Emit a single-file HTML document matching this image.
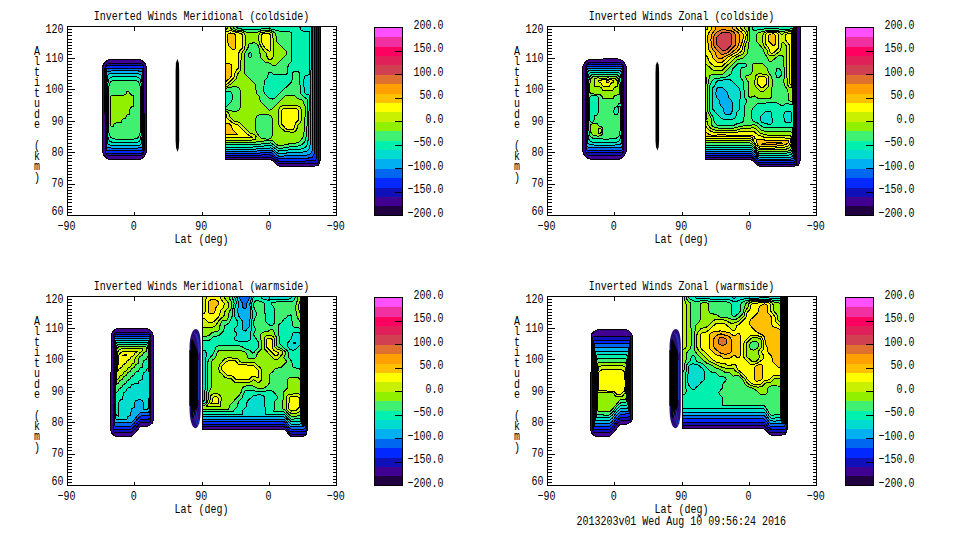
<!DOCTYPE html>
<html><head><meta charset="utf-8"><style>
html,body{margin:0;padding:0;background:#fff;width:960px;height:540px;overflow:hidden}
svg{display:block}
text{font-family:"Liberation Mono",monospace;font-size:13px;fill:#000}
</style></head><body>
<svg width="960" height="540" viewBox="0 0 960 540">
<rect width="960" height="540" fill="#fff"/>
<g transform="translate(0,0)">
<path d="M109.6,59.4 106.9,60.6 104.6,62.6 103.1,65.1 102.4,67.9 102.6,152.4 103.9,155.4 105.9,157.6 108.9,159.4 110.9,159.9 139.4,159.6 142.1,158.4 144.4,156.4 145.9,153.9 146.6,151.1 146.4,66.6 145.1,63.6 143.1,61.4 140.1,59.6 138.1,59.1Z" fill="#200040" fill-rule="evenodd" shape-rendering="crispEdges"/><path d="M109.6,59.4 106.9,60.6 104.6,62.6 103.1,65.1 102.4,67.9 102.6,152.4 103.9,155.4 105.9,157.6 108.9,159.4 110.9,159.9 139.4,159.6 142.1,158.4 144.4,156.4 145.9,153.9 146.6,151.1 146.4,66.6 145.1,63.6 143.1,61.4 140.1,59.6 138.1,59.1Z" fill="#400090" fill-rule="evenodd" shape-rendering="crispEdges"/><path d="M108.4,63.1 106.4,64.6 104.9,68.1 105.1,152.1 106.4,154.4 108.4,155.9 140.6,155.9 142.6,154.4 144.1,150.9 143.9,66.9 142.6,64.6 140.6,63.1Z" fill="#1010b8" fill-rule="evenodd" shape-rendering="crispEdges"/><path d="M106.4,65.9 105.4,68.1 105.6,151.9 106.1,152.9 107.1,153.4 142.6,153.1 143.6,150.9 143.4,67.1 142.9,66.1 141.9,65.6Z" fill="#0028ff" fill-rule="evenodd" shape-rendering="crispEdges"/><path d="M107.1,68.4 106.1,69.6 105.9,146.4 106.4,150.1 107.1,150.6 141.9,150.6 142.9,149.4 143.1,72.6 142.6,68.9 141.9,68.4Z" fill="#0068f0" fill-rule="evenodd" shape-rendering="crispEdges"/><path d="M107.4,71.4 106.6,73.1 106.4,140.9 106.9,146.9 107.4,147.6 111.4,148.1 137.6,148.1 141.6,147.6 142.4,145.9 142.6,78.4 142.1,72.1 141.6,71.4 137.6,70.9 111.4,70.9Z" fill="#00b0f0" fill-rule="evenodd" shape-rendering="crispEdges"/><path d="M108.9,74.1 107.4,75.6 106.9,83.9 106.9,135.4 107.4,143.4 108.4,144.6 111.4,145.4 137.6,145.4 140.1,144.9 141.6,143.4 142.1,135.4 142.1,83.9 141.6,75.6 140.6,74.4 137.6,73.6 111.4,73.6Z" fill="#00dcd0" fill-rule="evenodd" shape-rendering="crispEdges"/><path d="M110.9,77.1 108.9,79.4 107.6,84.6 107.4,125.9 107.6,134.4 108.6,139.6 110.1,141.6 113.4,142.6 131.6,142.9 137.9,142.1 138.9,141.6 140.4,139.6 141.4,134.4 141.6,93.1 141.4,84.6 140.1,79.4 138.6,77.4 135.1,76.4 118.4,76.1Z" fill="#00f0b0" fill-rule="evenodd" shape-rendering="crispEdges"/><path d="M111.4,81.1 109.4,83.6 108.6,88.9 108.4,119.1 108.6,130.1 109.4,135.4 110.9,137.6 114.9,139.1 131.9,139.4 136.4,138.6 138.1,137.6 139.6,135.4 140.4,130.1 140.6,99.9 140.4,88.9 139.6,83.6 137.6,81.1 134.4,80.4 119.4,80.1Z" fill="#40f070" fill-rule="evenodd" shape-rendering="crispEdges"/><path d="M128.6,91.4 126.9,91.6 125.9,93.9 123.9,95.1 112.1,95.1 110.4,96.4 110.1,124.9 111.4,126.6 113.1,126.4 114.1,124.1 115.4,123.1 121.1,122.4 122.1,120.1 123.1,119.1 124.9,118.6 127.1,115.1 129.4,114.1 130.1,108.4 131.1,107.1 132.9,106.6 133.6,105.6 133.6,96.4 132.9,95.4 131.1,94.9Z" fill="#90f000" fill-rule="evenodd" shape-rendering="crispEdges"/><path d="M109.6,59.4 106.9,60.6 104.6,62.6 103.1,65.1 102.4,67.9 102.6,152.4 103.9,155.4 105.9,157.6 108.9,159.4 110.9,159.9 139.4,159.6 142.1,158.4 144.4,156.4 145.9,153.9 146.6,151.1 146.4,66.6 145.1,63.6 143.1,61.4 140.1,59.6 138.1,59.1ZM108.4,63.1 106.4,64.6 104.9,68.1 105.1,152.1 106.4,154.4 108.4,155.9 140.6,155.9 142.6,154.4 144.1,150.9 143.9,66.9 142.6,64.6 140.6,63.1ZM106.4,65.9 105.4,68.1 105.6,151.9 106.1,152.9 107.1,153.4 142.6,153.1 143.6,150.9 143.4,67.1 142.9,66.1 141.9,65.6ZM107.1,68.4 106.1,69.6 105.9,146.4 106.4,150.1 107.1,150.6 141.9,150.6 142.9,149.4 143.1,72.6 142.6,68.9 141.9,68.4ZM107.4,71.4 106.6,73.1 106.4,140.9 106.9,146.9 107.4,147.6 111.4,148.1 137.6,148.1 141.6,147.6 142.4,145.9 142.6,78.4 142.1,72.1 141.6,71.4 137.6,70.9 111.4,70.9ZM108.9,74.1 107.4,75.6 106.9,83.9 106.9,135.4 107.4,143.4 108.4,144.6 111.4,145.4 137.6,145.4 140.1,144.9 141.6,143.4 142.1,135.4 142.1,83.9 141.6,75.6 140.6,74.4 137.6,73.6 111.4,73.6ZM110.9,77.1 108.9,79.4 107.6,84.6 107.4,125.9 107.6,134.4 108.6,139.6 110.1,141.6 113.4,142.6 131.6,142.9 137.9,142.1 138.9,141.6 140.4,139.6 141.4,134.4 141.6,93.1 141.4,84.6 140.1,79.4 138.6,77.4 135.1,76.4 118.4,76.1ZM111.4,81.1 109.4,83.6 108.6,88.9 108.4,119.1 108.6,130.1 109.4,135.4 110.9,137.6 114.9,139.1 131.9,139.4 136.4,138.6 138.1,137.6 139.6,135.4 140.4,130.1 140.6,99.9 140.4,88.9 139.6,83.6 137.6,81.1 134.4,80.4 119.4,80.1ZM128.6,91.4 126.9,91.6 125.9,93.9 123.9,95.1 112.1,95.1 110.4,96.4 110.1,124.9 111.4,126.6 113.1,126.4 114.1,124.1 115.4,123.1 121.1,122.4 122.1,120.1 123.1,119.1 124.9,118.6 127.1,115.1 129.4,114.1 130.1,108.4 131.1,107.1 132.9,106.6 133.6,105.6 133.6,96.4 132.9,95.4 131.1,94.9Z" fill="none" stroke="#000" stroke-width="1.0" shape-rendering="crispEdges"/><path d="M177.4,59 L178.9,63 L179.2,72 L179.2,141 L178.8,148 L177.6,152 L176.1,148 L175.6,141 L175.6,72 L175.9,63Z" fill="#000"/><path d="M225.4,26.1 225.4,159.4 270.6,159.4 273.1,160.9 276.6,164.6 279.4,166.4 314.6,166.1 318.4,165.1 319.9,162.4 320.4,154.1 320.4,26.1Z" fill="#200040" fill-rule="evenodd" shape-rendering="crispEdges"/><path d="M225.4,26.1 225.4,159.4 270.6,159.4 273.1,160.9 276.6,164.6 279.4,166.4 314.6,166.1 318.4,165.1 319.9,162.4 320.4,154.1 320.4,26.1Z" fill="#400090" fill-rule="evenodd" shape-rendering="crispEdges"/><path d="M225.4,26.1 225.4,157.4 270.9,157.1 279.1,163.9 317.9,163.4 318.4,162.4 318.6,26.1Z" fill="#1010b8" fill-rule="evenodd" shape-rendering="crispEdges"/><path d="M225.4,26.1 225.4,155.4 271.1,154.9 279.1,161.4 312.6,160.9 315.4,160.1 316.4,158.1 316.6,26.1Z" fill="#0028ff" fill-rule="evenodd" shape-rendering="crispEdges"/><path d="M225.4,26.1 225.4,153.4 252.6,153.4 270.4,152.4 272.9,153.6 276.6,157.4 279.1,158.9 290.1,158.1 308.1,158.1 312.6,157.1 314.4,153.6 314.9,141.9 314.9,26.1Z" fill="#0068f0" fill-rule="evenodd" shape-rendering="crispEdges"/><path d="M225.4,26.1 225.4,151.4 251.4,151.4 270.9,150.1 273.4,151.6 276.9,155.1 279.1,156.4 292.1,155.4 303.4,155.4 307.6,154.9 310.1,153.9 311.1,152.9 312.1,150.4 312.9,141.6 312.9,26.1Z" fill="#00b0f0" fill-rule="evenodd" shape-rendering="crispEdges"/><path d="M225.4,26.1 225.4,149.4 250.4,149.4 271.1,147.9 272.6,148.6 276.9,152.6 279.1,153.9 289.9,152.6 301.9,152.4 307.4,150.9 309.6,147.9 310.9,138.1 311.1,26.1Z" fill="#00dcd0" fill-rule="evenodd" shape-rendering="crispEdges"/><path d="M225.4,26.1 225.4,147.1 251.9,147.1 271.1,145.4 278.6,151.1 289.4,149.9 299.6,149.4 304.1,148.1 306.6,145.9 307.6,143.6 308.9,134.1 309.1,95.1 306.1,94.4 304.1,91.9 303.9,79.6 304.4,76.9 305.4,75.6 309.1,74.6 309.4,31.4 303.4,31.1 301.4,30.4 300.1,28.6 299.9,26.1Z" fill="#00f0b0" fill-rule="evenodd" shape-rendering="crispEdges"/><path d="M225.4,26.1 225.4,91.1 230.1,91.4 231.4,92.4 232.1,94.4 232.1,99.6 231.6,101.4 226.6,106.4 225.4,106.6 225.4,144.9 252.4,144.9 271.1,142.9 277.6,147.9 279.9,148.6 289.6,146.9 296.9,146.4 302.1,144.6 304.9,141.4 306.4,135.4 307.1,124.1 307.4,99.1 303.9,97.1 300.1,93.1 299.9,74.9 299.1,72.4 297.6,71.4 295.9,71.1 294.4,71.4 292.6,72.6 292.1,74.1 292.1,80.1 291.4,82.1 274.6,98.4 272.1,99.1 269.6,98.6 265.1,94.4 263.9,91.6 264.1,81.4 264.9,79.9 267.4,77.4 268.4,73.1 269.4,72.1 270.9,72.1 273.6,74.4 275.4,74.9 284.1,74.9 286.6,74.1 287.6,72.9 288.1,65.4 288.9,63.9 291.4,61.4 291.9,59.6 291.9,34.4 291.1,32.4 288.6,31.1 279.4,31.1 270.6,28.9 261.4,28.9 255.6,29.9 248.4,29.9 238.4,28.6 236.6,27.4 236.1,26.1ZM249.9,52.4 250.6,52.4 251.9,54.1 251.6,56.6 250.4,57.9 249.6,57.9 248.4,56.4 248.4,54.1Z" fill="#40f070" fill-rule="evenodd" shape-rendering="crispEdges"/><path d="M225.4,26.1 225.4,88.4 232.1,86.9 236.6,86.9 238.6,87.6 240.1,90.4 240.1,107.6 239.4,109.6 236.6,111.1 231.9,111.1 227.1,109.6 225.4,109.6 225.4,142.6 251.4,142.6 270.9,140.1 272.6,140.9 277.6,145.1 280.6,145.6 289.1,143.9 294.4,143.4 298.9,141.9 301.1,140.1 303.1,136.6 304.6,128.6 305.4,106.4 304.1,104.6 302.9,100.6 300.9,99.4 297.6,98.6 295.1,96.1 293.6,95.4 286.4,95.4 284.6,96.4 271.4,109.6 269.4,110.1 260.4,101.4 259.4,96.6 256.9,94.1 256.1,92.6 255.9,86.4 254.9,83.9 244.9,74.1 244.1,72.6 244.1,54.4 247.9,48.1 248.6,44.6 250.4,43.1 255.1,42.9 256.6,43.4 258.4,45.9 259.9,50.1 260.1,55.6 261.1,58.1 265.1,62.1 270.1,63.4 273.6,65.9 275.4,65.4 286.4,54.4 286.9,53.4 286.4,51.6 276.6,41.6 276.1,40.1 276.1,35.9 275.4,33.4 272.1,31.1 267.4,30.4 261.6,30.6 256.6,32.4 247.4,32.4 242.4,30.6 236.1,29.9 233.6,28.1 233.1,26.1ZM257.4,115.6 259.4,114.9 268.9,114.9 271.4,116.4 272.1,118.4 272.1,135.6 270.6,138.4 268.6,139.1 262.4,138.9 259.9,136.9 256.9,133.1 255.9,130.6 255.9,118.4Z" fill="#90f000" fill-rule="evenodd" shape-rendering="crispEdges"/><path d="M225.4,111.4 225.4,140.1 251.6,140.1 255.6,139.4 256.1,136.6 254.9,134.9 249.9,132.9 239.6,122.6 233.9,120.9 229.9,116.9 228.6,113.1 226.9,111.6ZM280.6,106.6 279.6,107.6 278.9,109.6 278.9,124.6 279.6,126.6 285.4,131.9 293.6,132.1 295.1,131.6 296.6,130.1 297.9,125.1 300.1,122.9 301.1,120.4 301.1,109.6 300.4,107.6 299.1,106.4 297.6,105.9 282.6,105.9ZM261.4,32.1 259.6,33.4 258.9,34.9 258.9,40.4 260.1,44.9 263.6,50.6 266.1,53.1 267.4,57.9 269.1,59.4 270.9,59.4 272.4,58.4 273.1,56.4 273.1,39.1 272.6,33.9 271.9,32.9 269.6,31.9ZM230.1,26.1 228.4,26.1 227.9,27.6 226.4,29.1 225.4,29.4 225.4,86.6 227.1,86.4 231.4,83.6 236.4,78.6 237.4,74.1 240.4,70.4 240.9,68.9 241.1,54.1 244.6,48.9 245.1,45.6 245.1,34.9 244.4,33.4 242.6,32.1 236.6,31.4 232.6,29.9 230.6,27.9Z" fill="#c8f000" fill-rule="evenodd" shape-rendering="crispEdges"/><path d="M225.4,113.6 225.4,137.6 249.9,137.6 252.1,137.1 248.6,135.1 244.4,131.6 237.9,125.1 233.4,123.6 227.1,118.1 226.4,114.9ZM283.4,108.6 282.1,109.4 281.4,112.1 281.6,123.9 286.1,128.9 289.1,129.6 292.6,129.4 293.6,128.9 294.4,127.6 295.4,123.4 298.4,119.9 298.4,110.4 297.6,109.1 294.9,108.4ZM263.1,33.6 261.9,34.6 261.4,36.9 262.1,44.1 265.6,48.6 269.6,51.6 270.4,50.1 270.6,47.4 270.4,35.1 268.9,33.6ZM230.4,30.6 225.4,32.1 225.4,84.9 227.9,83.6 233.9,77.6 235.4,71.6 238.4,67.9 238.6,53.4 239.6,51.1 242.1,48.4 242.6,45.6 242.6,36.6 242.1,34.6 240.9,33.6Z" fill="#ffff00" fill-rule="evenodd" shape-rendering="crispEdges"/><path d="M225.4,123.1 225.4,134.4 237.4,134.4 232.9,130.1 231.1,125.4 229.6,123.9ZM228.6,63.1 225.4,63.1 225.4,82.1 230.6,77.4 231.6,75.1 231.9,66.4 231.1,64.4ZM229.9,32.9 227.9,34.1 227.1,35.9 227.1,38.6 228.4,44.6 229.1,46.1 232.6,49.4 234.6,49.6 235.9,46.9 235.9,35.9 235.4,34.6 234.1,33.6Z" fill="#ffc000" fill-rule="evenodd" shape-rendering="crispEdges"/><path d="M225.4,26.1 225.4,159.4 270.6,159.4 273.1,160.9 276.6,164.6 279.4,166.4 314.6,166.1 318.4,165.1 319.9,162.4 320.4,154.1 320.4,26.1ZM225.4,26.1 225.4,157.4 270.9,157.1 279.1,163.9 317.9,163.4 318.4,162.4 318.6,26.1ZM225.4,26.1 225.4,155.4 271.1,154.9 279.1,161.4 312.6,160.9 315.4,160.1 316.4,158.1 316.6,26.1ZM225.4,26.1 225.4,153.4 252.6,153.4 270.4,152.4 272.9,153.6 276.6,157.4 279.1,158.9 290.1,158.1 308.1,158.1 312.6,157.1 314.4,153.6 314.9,141.9 314.9,26.1ZM225.4,26.1 225.4,151.4 251.4,151.4 270.9,150.1 273.4,151.6 276.9,155.1 279.1,156.4 292.1,155.4 303.4,155.4 307.6,154.9 310.1,153.9 311.1,152.9 312.1,150.4 312.9,141.6 312.9,26.1ZM225.4,26.1 225.4,149.4 250.4,149.4 271.1,147.9 272.6,148.6 276.9,152.6 279.1,153.9 289.9,152.6 301.9,152.4 307.4,150.9 309.6,147.9 310.9,138.1 311.1,26.1ZM225.4,26.1 225.4,147.1 251.9,147.1 271.1,145.4 278.6,151.1 289.4,149.9 299.6,149.4 304.1,148.1 306.6,145.9 307.6,143.6 308.9,134.1 309.1,95.1 306.1,94.4 304.1,91.9 303.9,79.6 304.4,76.9 305.4,75.6 309.1,74.6 309.4,31.4 303.4,31.1 301.4,30.4 300.1,28.6 299.9,26.1ZM225.4,26.1 225.4,91.1 230.1,91.4 231.4,92.4 232.1,94.4 232.1,99.6 231.6,101.4 226.6,106.4 225.4,106.6 225.4,144.9 252.4,144.9 271.1,142.9 277.6,147.9 279.9,148.6 289.6,146.9 296.9,146.4 302.1,144.6 304.9,141.4 306.4,135.4 307.1,124.1 307.4,99.1 303.9,97.1 300.1,93.1 299.9,74.9 299.1,72.4 297.6,71.4 295.9,71.1 294.4,71.4 292.6,72.6 292.1,74.1 292.1,80.1 291.4,82.1 274.6,98.4 272.1,99.1 269.6,98.6 265.1,94.4 263.9,91.6 264.1,81.4 264.9,79.9 267.4,77.4 268.4,73.1 269.4,72.1 270.9,72.1 273.6,74.4 275.4,74.9 284.1,74.9 286.6,74.1 287.6,72.9 288.1,65.4 288.9,63.9 291.4,61.4 291.9,59.6 291.9,34.4 291.1,32.4 288.6,31.1 279.4,31.1 270.6,28.9 261.4,28.9 255.6,29.9 248.4,29.9 238.4,28.6 236.6,27.4 236.1,26.1ZM249.9,52.4 250.6,52.4 251.9,54.1 251.6,56.6 250.4,57.9 249.6,57.9 248.4,56.4 248.4,54.1ZM225.4,26.1 225.4,88.4 232.1,86.9 236.6,86.9 238.6,87.6 240.1,90.4 240.1,107.6 239.4,109.6 236.6,111.1 231.9,111.1 227.1,109.6 225.4,109.6 225.4,142.6 251.4,142.6 270.9,140.1 272.6,140.9 277.6,145.1 280.6,145.6 289.1,143.9 294.4,143.4 298.9,141.9 301.1,140.1 303.1,136.6 304.6,128.6 305.4,106.4 304.1,104.6 302.9,100.6 300.9,99.4 297.6,98.6 295.1,96.1 293.6,95.4 286.4,95.4 284.6,96.4 271.4,109.6 269.4,110.1 260.4,101.4 259.4,96.6 256.9,94.1 256.1,92.6 255.9,86.4 254.9,83.9 244.9,74.1 244.1,72.6 244.1,54.4 247.9,48.1 248.6,44.6 250.4,43.1 255.1,42.9 256.6,43.4 258.4,45.9 259.9,50.1 260.1,55.6 261.1,58.1 265.1,62.1 270.1,63.4 273.6,65.9 275.4,65.4 286.4,54.4 286.9,53.4 286.4,51.6 276.6,41.6 276.1,40.1 276.1,35.9 275.4,33.4 272.1,31.1 267.4,30.4 261.6,30.6 256.6,32.4 247.4,32.4 242.4,30.6 236.1,29.9 233.6,28.1 233.1,26.1ZM257.4,115.6 259.4,114.9 268.9,114.9 271.4,116.4 272.1,118.4 272.1,135.6 270.6,138.4 268.6,139.1 262.4,138.9 259.9,136.9 256.9,133.1 255.9,130.6 255.9,118.4ZM225.4,111.4 225.4,140.1 251.6,140.1 255.6,139.4 256.1,136.6 254.9,134.9 249.9,132.9 239.6,122.6 233.9,120.9 229.9,116.9 228.6,113.1 226.9,111.6ZM280.6,106.6 279.6,107.6 278.9,109.6 278.9,124.6 279.6,126.6 285.4,131.9 293.6,132.1 295.1,131.6 296.6,130.1 297.9,125.1 300.1,122.9 301.1,120.4 301.1,109.6 300.4,107.6 299.1,106.4 297.6,105.9 282.6,105.9ZM261.4,32.1 259.6,33.4 258.9,34.9 258.9,40.4 260.1,44.9 263.6,50.6 266.1,53.1 267.4,57.9 269.1,59.4 270.9,59.4 272.4,58.4 273.1,56.4 273.1,39.1 272.6,33.9 271.9,32.9 269.6,31.9ZM230.1,26.1 228.4,26.1 227.9,27.6 226.4,29.1 225.4,29.4 225.4,86.6 227.1,86.4 231.4,83.6 236.4,78.6 237.4,74.1 240.4,70.4 240.9,68.9 241.1,54.1 244.6,48.9 245.1,45.6 245.1,34.9 244.4,33.4 242.6,32.1 236.6,31.4 232.6,29.9 230.6,27.9ZM225.4,113.6 225.4,137.6 249.9,137.6 252.1,137.1 248.6,135.1 244.4,131.6 237.9,125.1 233.4,123.6 227.1,118.1 226.4,114.9ZM283.4,108.6 282.1,109.4 281.4,112.1 281.6,123.9 286.1,128.9 289.1,129.6 292.6,129.4 293.6,128.9 294.4,127.6 295.4,123.4 298.4,119.9 298.4,110.4 297.6,109.1 294.9,108.4ZM263.1,33.6 261.9,34.6 261.4,36.9 262.1,44.1 265.6,48.6 269.6,51.6 270.4,50.1 270.6,47.4 270.4,35.1 268.9,33.6ZM230.4,30.6 225.4,32.1 225.4,84.9 227.9,83.6 233.9,77.6 235.4,71.6 238.4,67.9 238.6,53.4 239.6,51.1 242.1,48.4 242.6,45.6 242.6,36.6 242.1,34.6 240.9,33.6ZM225.4,123.1 225.4,134.4 237.4,134.4 232.9,130.1 231.1,125.4 229.6,123.9ZM228.6,63.1 225.4,63.1 225.4,82.1 230.6,77.4 231.6,75.1 231.9,66.4 231.1,64.4ZM229.9,32.9 227.9,34.1 227.1,35.9 227.1,38.6 228.4,44.6 229.1,46.1 232.6,49.4 234.6,49.6 235.9,46.9 235.9,35.9 235.4,34.6 234.1,33.6Z" fill="none" stroke="#000" stroke-width="1.0" shape-rendering="crispEdges"/>
<rect x="67.5" y="26.5" width="269.0" height="189.0" fill="none" stroke="#000" stroke-width="1" shape-rendering="crispEdges"/>
<path d="M67.5,26.5h7M336.5,26.5h-7M67.5,29.5h4M336.5,29.5h-4M67.5,32.5h4M336.5,32.5h-4M67.5,35.5h4M336.5,35.5h-4M67.5,39.5h4M336.5,39.5h-4M67.5,42.5h4M336.5,42.5h-4M67.5,45.5h4M336.5,45.5h-4M67.5,48.5h4M336.5,48.5h-4M67.5,51.5h4M336.5,51.5h-4M67.5,54.5h4M336.5,54.5h-4M67.5,58.5h7M336.5,58.5h-7M67.5,61.5h4M336.5,61.5h-4M67.5,64.5h4M336.5,64.5h-4M67.5,67.5h4M336.5,67.5h-4M67.5,70.5h4M336.5,70.5h-4M67.5,73.5h4M336.5,73.5h-4M67.5,76.5h4M336.5,76.5h-4M67.5,80.5h4M336.5,80.5h-4M67.5,83.5h4M336.5,83.5h-4M67.5,86.5h4M336.5,86.5h-4M67.5,89.5h7M336.5,89.5h-7M67.5,92.5h4M336.5,92.5h-4M67.5,95.5h4M336.5,95.5h-4M67.5,98.5h4M336.5,98.5h-4M67.5,102.5h4M336.5,102.5h-4M67.5,105.5h4M336.5,105.5h-4M67.5,108.5h4M336.5,108.5h-4M67.5,111.5h4M336.5,111.5h-4M67.5,114.5h4M336.5,114.5h-4M67.5,117.5h4M336.5,117.5h-4M67.5,121.5h7M336.5,121.5h-7M67.5,124.5h4M336.5,124.5h-4M67.5,127.5h4M336.5,127.5h-4M67.5,130.5h4M336.5,130.5h-4M67.5,133.5h4M336.5,133.5h-4M67.5,136.5h4M336.5,136.5h-4M67.5,139.5h4M336.5,139.5h-4M67.5,143.5h4M336.5,143.5h-4M67.5,146.5h4M336.5,146.5h-4M67.5,149.5h4M336.5,149.5h-4M67.5,152.5h7M336.5,152.5h-7M67.5,155.5h4M336.5,155.5h-4M67.5,158.5h4M336.5,158.5h-4M67.5,161.5h4M336.5,161.5h-4M67.5,165.5h4M336.5,165.5h-4M67.5,168.5h4M336.5,168.5h-4M67.5,171.5h4M336.5,171.5h-4M67.5,174.5h4M336.5,174.5h-4M67.5,177.5h4M336.5,177.5h-4M67.5,180.5h4M336.5,180.5h-4M67.5,184.5h7M336.5,184.5h-7M67.5,187.5h4M336.5,187.5h-4M67.5,190.5h4M336.5,190.5h-4M67.5,193.5h4M336.5,193.5h-4M67.5,196.5h4M336.5,196.5h-4M67.5,199.5h4M336.5,199.5h-4M67.5,202.5h4M336.5,202.5h-4M67.5,206.5h4M336.5,206.5h-4M67.5,209.5h4M336.5,209.5h-4M67.5,212.5h4M336.5,212.5h-4M67.5,215.5h7M336.5,215.5h-7M67.5,215.5v-4M67.5,26.5v4M134.5,215.5v-4M134.5,26.5v4M202.5,215.5v-4M202.5,26.5v4M269.5,215.5v-4M269.5,26.5v4M336.5,215.5v-4M336.5,26.5v4" stroke="#000" stroke-width="1" fill="none" shape-rendering="crispEdges"/>
<text transform="translate(63.5,32.9) scale(0.768,1)" text-anchor="end">120</text>
<text transform="translate(63.5,62) scale(0.768,1)" text-anchor="end">110</text>
<text transform="translate(63.5,92.5) scale(0.768,1)" text-anchor="end">100</text>
<text transform="translate(63.5,124.8) scale(0.768,1)" text-anchor="end">90</text>
<text transform="translate(63.5,155.9) scale(0.768,1)" text-anchor="end">80</text>
<text transform="translate(63.5,187) scale(0.768,1)" text-anchor="end">70</text>
<text transform="translate(63.5,214.5) scale(0.768,1)" text-anchor="end">60</text>
<text transform="translate(66.4,229.8) scale(0.768,1)" text-anchor="middle">−90</text>
<text transform="translate(133.7,229.8) scale(0.768,1)" text-anchor="middle">0</text>
<text transform="translate(201.25,229.8) scale(0.768,1)" text-anchor="middle">90</text>
<text transform="translate(268.6,229.8) scale(0.768,1)" text-anchor="middle">0</text>
<text transform="translate(335.8,229.8) scale(0.768,1)" text-anchor="middle">−90</text>
<text transform="translate(201.5,242.6) scale(0.768,1)" text-anchor="middle">Lat (deg)</text>
<text transform="translate(201.5,20) scale(0.768,1)" text-anchor="middle">Inverted Winds Meridional (coldside)</text>
<text transform="translate(37,54.8) scale(0.768,1)" text-anchor="middle">A</text>
<text transform="translate(37,65.3) scale(0.768,1)" text-anchor="middle">l</text>
<text transform="translate(37,75.8) scale(0.768,1)" text-anchor="middle">t</text>
<text transform="translate(37,86.3) scale(0.768,1)" text-anchor="middle">i</text>
<text transform="translate(37,96.8) scale(0.768,1)" text-anchor="middle">t</text>
<text transform="translate(37,107.3) scale(0.768,1)" text-anchor="middle">u</text>
<text transform="translate(37,117.8) scale(0.768,1)" text-anchor="middle">d</text>
<text transform="translate(37,128.3) scale(0.768,1)" text-anchor="middle">e</text>
<text transform="translate(37,149.3) scale(0.768,1)" text-anchor="middle">(</text>
<text transform="translate(37,159.8) scale(0.768,1)" text-anchor="middle">k</text>
<text transform="translate(37,170.3) scale(0.768,1)" text-anchor="middle">m</text>
<text transform="translate(37,180.8) scale(0.768,1)" text-anchor="middle">)</text>
<rect x="374.5" y="206.10" width="28.0" height="9.70" fill="#200040" shape-rendering="crispEdges"/>
<rect x="374.5" y="196.70" width="28.0" height="9.70" fill="#400090" shape-rendering="crispEdges"/>
<rect x="374.5" y="187.30" width="28.0" height="9.70" fill="#1010b8" shape-rendering="crispEdges"/>
<rect x="374.5" y="177.90" width="28.0" height="9.70" fill="#0028ff" shape-rendering="crispEdges"/>
<rect x="374.5" y="168.50" width="28.0" height="9.70" fill="#0068f0" shape-rendering="crispEdges"/>
<rect x="374.5" y="159.10" width="28.0" height="9.70" fill="#00b0f0" shape-rendering="crispEdges"/>
<rect x="374.5" y="149.70" width="28.0" height="9.70" fill="#00dcd0" shape-rendering="crispEdges"/>
<rect x="374.5" y="140.30" width="28.0" height="9.70" fill="#00f0b0" shape-rendering="crispEdges"/>
<rect x="374.5" y="130.90" width="28.0" height="9.70" fill="#40f070" shape-rendering="crispEdges"/>
<rect x="374.5" y="121.50" width="28.0" height="9.70" fill="#90f000" shape-rendering="crispEdges"/>
<rect x="374.5" y="112.10" width="28.0" height="9.70" fill="#c8f000" shape-rendering="crispEdges"/>
<rect x="374.5" y="102.70" width="28.0" height="9.70" fill="#ffff00" shape-rendering="crispEdges"/>
<rect x="374.5" y="93.30" width="28.0" height="9.70" fill="#ffc000" shape-rendering="crispEdges"/>
<rect x="374.5" y="83.90" width="28.0" height="9.70" fill="#ffa000" shape-rendering="crispEdges"/>
<rect x="374.5" y="74.50" width="28.0" height="9.70" fill="#e07030" shape-rendering="crispEdges"/>
<rect x="374.5" y="65.10" width="28.0" height="9.70" fill="#d04050" shape-rendering="crispEdges"/>
<rect x="374.5" y="55.70" width="28.0" height="9.70" fill="#e02058" shape-rendering="crispEdges"/>
<rect x="374.5" y="46.30" width="28.0" height="9.70" fill="#ff0060" shape-rendering="crispEdges"/>
<rect x="374.5" y="36.90" width="28.0" height="9.70" fill="#f030a0" shape-rendering="crispEdges"/>
<rect x="374.5" y="27.50" width="28.0" height="9.70" fill="#ff50ff" shape-rendering="crispEdges"/>
<rect x="374.5" y="27.5" width="28.0" height="188.0" fill="none" stroke="#000" shape-rendering="crispEdges"/>
<path d="M402.5,51.5h-8M402.5,74.5h-8M402.5,98.5h-8M402.5,121.5h-8M402.5,145.5h-8M402.5,168.5h-8M402.5,192.5h-8" stroke="#000" fill="none" shape-rendering="crispEdges"/>
<text transform="translate(443.5,29.0) scale(0.768,1)" text-anchor="end">200.0</text>
<text transform="translate(443.5,52.45) scale(0.768,1)" text-anchor="end">150.0</text>
<text transform="translate(443.5,75.9) scale(0.768,1)" text-anchor="end">100.0</text>
<text transform="translate(443.5,99.35) scale(0.768,1)" text-anchor="end">50.0</text>
<text transform="translate(443.5,122.8) scale(0.768,1)" text-anchor="end">0.0</text>
<text transform="translate(443.5,146.25) scale(0.768,1)" text-anchor="end">−50.0</text>
<text transform="translate(443.5,169.7) scale(0.768,1)" text-anchor="end">−100.0</text>
<text transform="translate(443.5,193.15) scale(0.768,1)" text-anchor="end">−150.0</text>
<text transform="translate(443.5,216.6) scale(0.768,1)" text-anchor="end">−200.0</text>
</g><g transform="translate(480,0)">
<path d="M110.1,59.1 107.1,60.4 104.9,62.4 103.1,65.4 102.6,67.4 102.9,152.1 104.4,155.4 106.6,157.6 110.6,159.4 139.4,159.1 142.4,157.6 144.6,155.4 146.4,151.1 146.1,66.1 144.9,63.4 142.9,61.1 140.4,59.6 137.6,58.9Z" fill="#200040" fill-rule="evenodd" shape-rendering="crispEdges"/><path d="M110.1,59.1 107.1,60.4 104.9,62.4 103.1,65.4 102.6,67.4 102.9,152.1 104.4,155.4 106.6,157.6 110.6,159.4 139.4,159.1 142.4,157.6 144.6,155.4 146.4,151.1 146.1,66.1 144.9,63.4 142.9,61.1 140.4,59.6 137.6,58.9Z" fill="#400090" fill-rule="evenodd" shape-rendering="crispEdges"/><path d="M108.9,62.6 106.4,64.6 105.1,67.6 105.4,151.9 106.1,153.4 108.4,155.4 140.6,155.4 142.9,153.4 143.9,150.9 143.9,67.6 143.4,65.9 141.1,63.1 139.4,62.4Z" fill="#1010b8" fill-rule="evenodd" shape-rendering="crispEdges"/><path d="M107.9,64.4 106.6,65.4 105.6,67.6 105.9,151.6 106.6,152.9 142.4,152.9 143.4,150.6 143.1,66.9 142.4,65.4 141.1,64.4Z" fill="#0028ff" fill-rule="evenodd" shape-rendering="crispEdges"/><path d="M107.1,66.4 106.1,68.4 106.4,149.1 107.1,150.1 110.6,150.4 141.9,150.1 142.6,149.1 142.9,147.4 142.6,67.1 141.9,66.4Z" fill="#0068f0" fill-rule="evenodd" shape-rendering="crispEdges"/><path d="M107.4,68.6 106.6,71.9 106.6,142.9 107.1,146.6 109.6,147.6 140.9,147.4 141.9,146.6 142.4,142.9 142.1,69.6 141.6,68.6 136.6,68.1 112.4,68.1Z" fill="#00b0f0" fill-rule="evenodd" shape-rendering="crispEdges"/><path d="M108.9,70.6 107.6,71.6 107.1,75.4 107.1,137.1 107.6,143.1 109.6,144.6 114.9,145.1 134.1,145.1 140.1,144.4 141.4,143.1 141.9,137.1 141.9,75.4 141.4,71.6 140.1,70.6 136.4,70.1 112.6,70.1Z" fill="#00dcd0" fill-rule="evenodd" shape-rendering="crispEdges"/><path d="M110.6,72.6 109.6,73.1 108.4,74.9 107.6,80.9 107.9,134.6 108.9,139.4 110.1,141.1 111.6,141.9 115.1,142.4 133.9,142.4 137.4,141.9 139.6,140.4 141.1,134.6 141.4,80.9 140.6,74.9 140.1,73.9 138.4,72.6 134.9,72.1 114.1,72.1Z" fill="#00f0b0" fill-rule="evenodd" shape-rendering="crispEdges"/><path d="M111.6,74.9 109.9,76.4 109.1,78.1 108.6,86.1 108.9,130.6 109.6,135.1 110.9,137.1 112.6,138.1 115.9,138.9 128.6,139.1 136.4,138.1 138.6,136.6 139.6,134.4 140.1,130.6 140.4,106.9 137.9,106.9 138.1,104.1 139.1,103.1 140.4,103.1 140.4,86.1 139.6,77.4 137.9,75.1 133.4,74.1 115.6,74.1ZM135.9,106.9 138.1,107.1 138.1,113.1 136.9,114.9 135.1,114.9 133.9,113.1 134.1,108.1ZM115.9,95.6 116.9,95.9 118.1,97.4 118.1,113.1 116.9,114.9 114.4,116.1 113.9,121.1 112.9,122.1 111.1,122.1 109.9,120.6 109.9,97.1 110.9,95.9Z" fill="#40f070" fill-rule="evenodd" shape-rendering="crispEdges"/><path d="M110.9,124.1 110.1,125.1 110.4,130.6 111.4,133.6 112.9,135.1 115.1,135.9 118.6,136.1 120.9,135.6 122.4,134.4 122.6,128.4 121.4,126.6 118.9,126.1 116.9,123.4ZM110.9,78.4 109.9,83.6 109.9,92.4 110.9,93.9 117.4,94.1 120.4,94.9 121.9,96.1 122.4,97.9 123.9,98.9 132.1,98.9 133.6,97.9 134.1,96.1 135.1,95.1 139.4,94.9 138.9,80.9 138.1,78.4 136.9,77.1 132.6,76.1 116.4,76.1 112.6,76.9Z" fill="#90f000" fill-rule="evenodd" shape-rendering="crispEdges"/><path d="M119.1,128.1 118.1,129.4 118.1,132.6 118.6,133.6 120.1,133.9 121.1,132.4 121.1,129.6 120.6,128.4ZM114.1,78.6 114.4,85.9 115.9,86.9 119.9,86.9 120.9,87.4 122.4,89.9 123.9,90.9 132.9,90.6 134.1,88.1 135.1,87.1 136.9,86.6 137.9,85.1 137.1,80.6 135.4,78.9 128.4,77.9 119.9,78.4 118.4,77.6Z" fill="#c8f000" fill-rule="evenodd" shape-rendering="crispEdges"/><path d="M133.6,80.9 132.1,79.9 127.1,79.1 124.6,79.9 119.1,80.1 118.4,80.9 118.4,81.9 120.9,83.1 123.1,86.4 124.1,86.9 128.1,86.9 129.6,85.9 130.1,84.4 131.4,83.1 133.6,81.9Z" fill="#ffff00" fill-rule="evenodd" shape-rendering="crispEdges"/><path d="M126.4,81.4 127.1,82.6 128.4,82.6 129.4,81.9 128.9,80.9 126.6,80.9Z" fill="#ffc000" fill-rule="evenodd" shape-rendering="crispEdges"/><path d="M110.1,59.1 107.1,60.4 104.9,62.4 103.1,65.4 102.6,67.4 102.9,152.1 104.4,155.4 106.6,157.6 110.6,159.4 139.4,159.1 142.4,157.6 144.6,155.4 146.4,151.1 146.1,66.1 144.9,63.4 142.9,61.1 140.4,59.6 137.6,58.9ZM108.9,62.6 106.4,64.6 105.1,67.6 105.4,151.9 106.1,153.4 108.4,155.4 140.6,155.4 142.9,153.4 143.9,150.9 143.9,67.6 143.4,65.9 141.1,63.1 139.4,62.4ZM107.9,64.4 106.6,65.4 105.6,67.6 105.9,151.6 106.6,152.9 142.4,152.9 143.4,150.6 143.1,66.9 142.4,65.4 141.1,64.4ZM107.1,66.4 106.1,68.4 106.4,149.1 107.1,150.1 110.6,150.4 141.9,150.1 142.6,149.1 142.9,147.4 142.6,67.1 141.9,66.4ZM107.4,68.6 106.6,71.9 106.6,142.9 107.1,146.6 109.6,147.6 140.9,147.4 141.9,146.6 142.4,142.9 142.1,69.6 141.6,68.6 136.6,68.1 112.4,68.1ZM108.9,70.6 107.6,71.6 107.1,75.4 107.1,137.1 107.6,143.1 109.6,144.6 114.9,145.1 134.1,145.1 140.1,144.4 141.4,143.1 141.9,137.1 141.9,75.4 141.4,71.6 140.1,70.6 136.4,70.1 112.6,70.1ZM110.6,72.6 109.6,73.1 108.4,74.9 107.6,80.9 107.9,134.6 108.9,139.4 110.1,141.1 111.6,141.9 115.1,142.4 133.9,142.4 137.4,141.9 139.6,140.4 141.1,134.6 141.4,80.9 140.6,74.9 140.1,73.9 138.4,72.6 134.9,72.1 114.1,72.1ZM111.6,74.9 109.9,76.4 109.1,78.1 108.6,86.1 108.9,130.6 109.6,135.1 110.9,137.1 112.6,138.1 115.9,138.9 128.6,139.1 136.4,138.1 138.6,136.6 139.6,134.4 140.1,130.6 140.4,106.9 137.9,106.9 138.1,104.1 139.1,103.1 140.4,103.1 140.4,86.1 139.6,77.4 137.9,75.1 133.4,74.1 115.6,74.1ZM135.9,106.9 138.1,107.1 138.1,113.1 136.9,114.9 135.1,114.9 133.9,113.1 134.1,108.1ZM115.9,95.6 116.9,95.9 118.1,97.4 118.1,113.1 116.9,114.9 114.4,116.1 113.9,121.1 112.9,122.1 111.1,122.1 109.9,120.6 109.9,97.1 110.9,95.9ZM110.9,124.1 110.1,125.1 110.4,130.6 111.4,133.6 112.9,135.1 115.1,135.9 118.6,136.1 120.9,135.6 122.4,134.4 122.6,128.4 121.4,126.6 118.9,126.1 116.9,123.4ZM110.9,78.4 109.9,83.6 109.9,92.4 110.9,93.9 117.4,94.1 120.4,94.9 121.9,96.1 122.4,97.9 123.9,98.9 132.1,98.9 133.6,97.9 134.1,96.1 135.1,95.1 139.4,94.9 138.9,80.9 138.1,78.4 136.9,77.1 132.6,76.1 116.4,76.1 112.6,76.9ZM119.1,128.1 118.1,129.4 118.1,132.6 118.6,133.6 120.1,133.9 121.1,132.4 121.1,129.6 120.6,128.4ZM114.1,78.6 114.4,85.9 115.9,86.9 119.9,86.9 120.9,87.4 122.4,89.9 123.9,90.9 132.9,90.6 134.1,88.1 135.1,87.1 136.9,86.6 137.9,85.1 137.1,80.6 135.4,78.9 128.4,77.9 119.9,78.4 118.4,77.6ZM133.6,80.9 132.1,79.9 127.1,79.1 124.6,79.9 119.1,80.1 118.4,80.9 118.4,81.9 120.9,83.1 123.1,86.4 124.1,86.9 128.1,86.9 129.6,85.9 130.1,84.4 131.4,83.1 133.6,81.9ZM126.4,81.4 127.1,82.6 128.4,82.6 129.4,81.9 128.9,80.9 126.6,80.9Z" fill="none" stroke="#000" stroke-width="1.0" shape-rendering="crispEdges"/><path d="M177.3,61.5 L178.8,65 L179.1,73 L179.1,141 L178.7,147 L177.5,150.5 L176,147 L175.5,141 L175.5,73 L175.8,65Z" fill="#000"/><path d="M225.4,26.1 225.4,159.4 270.6,159.4 273.1,160.9 276.6,164.6 279.4,166.4 314.6,166.1 318.4,165.1 319.9,162.4 320.4,154.1 320.4,26.1Z" fill="#200040" fill-rule="evenodd" shape-rendering="crispEdges"/><path d="M225.4,26.1 225.4,159.4 270.6,159.4 273.1,160.9 276.6,164.6 279.4,166.4 314.6,166.1 318.4,165.1 319.9,162.4 320.4,154.1 320.4,26.1Z" fill="#400090" fill-rule="evenodd" shape-rendering="crispEdges"/><path d="M225.4,26.1 225.4,157.4 270.9,157.4 273.4,159.1 277.6,163.6 279.6,164.6 315.1,164.6 316.4,164.1 316.9,162.9 316.9,26.1Z" fill="#1010b8" fill-rule="evenodd" shape-rendering="crispEdges"/><path d="M225.4,26.1 225.4,155.4 270.9,155.4 277.4,161.6 279.1,162.6 314.4,162.6 315.1,161.4 315.1,26.1Z" fill="#0028ff" fill-rule="evenodd" shape-rendering="crispEdges"/><path d="M225.4,26.1 225.4,153.4 271.1,153.4 279.1,160.9 313.6,160.6 314.4,159.9 314.6,26.1Z" fill="#0068f0" fill-rule="evenodd" shape-rendering="crispEdges"/><path d="M225.4,26.1 225.4,151.1 270.4,151.1 271.6,151.6 277.9,158.4 279.4,159.1 310.6,159.1 312.9,158.6 313.6,157.9 314.1,155.1 314.1,26.1Z" fill="#00b0f0" fill-rule="evenodd" shape-rendering="crispEdges"/><path d="M225.4,26.1 225.4,149.1 270.6,149.1 272.4,150.1 278.4,156.9 279.9,157.4 310.6,157.1 312.1,156.6 313.1,155.4 313.6,151.9 313.6,26.1ZM238.4,87.4 241.6,87.1 243.1,87.9 247.1,91.9 248.6,97.4 251.6,100.6 252.1,102.4 252.1,111.1 251.6,113.1 250.1,114.6 246.6,114.9 244.9,113.9 244.1,112.6 243.4,108.6 240.4,105.4 239.4,100.6 236.4,97.1 235.9,94.4 236.1,90.1 236.9,88.6Z" fill="#00dcd0" fill-rule="evenodd" shape-rendering="crispEdges"/><path d="M225.4,26.1 225.4,147.1 270.6,147.1 272.1,147.9 276.4,153.1 279.1,155.4 307.4,155.4 311.4,154.6 312.6,152.6 313.1,148.6 313.4,26.1ZM306.4,111.1 309.6,111.1 310.6,111.6 311.9,113.4 311.9,120.6 310.9,122.1 309.4,122.9 305.9,122.6 304.1,120.6 303.9,114.4 304.6,112.4ZM286.4,111.1 289.6,111.1 290.6,111.6 291.9,113.4 292.1,122.1 291.9,123.4 290.4,124.9 289.1,124.9 286.4,123.4 283.1,122.9 281.4,121.9 280.1,119.9 280.1,117.4 280.9,115.9 284.9,111.9ZM250.1,79.6 254.1,82.9 259.6,88.9 260.1,91.6 259.9,108.4 258.9,110.4 256.9,112.4 255.9,116.6 254.6,118.4 252.9,119.1 243.1,119.1 240.9,118.1 232.4,108.9 232.1,89.6 232.9,87.6 234.6,85.9 236.1,82.4 237.4,80.9 240.9,80.1Z" fill="#00f0b0" fill-rule="evenodd" shape-rendering="crispEdges"/><path d="M225.4,26.1 225.4,145.1 270.9,145.1 273.4,147.1 277.1,152.1 279.4,153.6 302.1,153.6 310.6,152.6 311.9,150.9 312.4,148.4 312.6,127.1 294.6,127.1 292.1,127.9 287.9,127.9 282.6,126.9 277.4,122.9 273.9,121.6 272.4,120.4 271.9,118.9 271.9,110.4 272.9,107.9 276.6,104.1 278.6,103.1 296.6,102.9 298.4,103.4 301.6,105.9 303.4,105.4 305.6,103.6 312.9,104.4 312.9,28.9 300.6,29.4 296.6,28.6 287.4,28.6 273.9,30.4 272.4,28.9 271.9,26.1ZM297.4,68.1 298.9,68.1 301.9,72.1 301.9,73.9 301.1,75.4 298.9,77.9 297.4,77.9 296.6,77.1 295.9,74.4 296.1,69.9ZM265.6,63.4 266.9,64.6 266.6,65.9 265.1,66.9 261.6,67.6 260.1,70.4 260.4,77.1 263.9,82.1 264.1,95.9 264.9,98.1 266.9,100.9 266.4,102.6 264.4,105.6 263.9,120.6 261.9,122.6 257.1,123.6 253.6,125.6 241.6,125.9 237.6,125.4 234.4,122.6 233.1,116.9 230.4,113.1 229.6,111.1 229.6,86.4 230.1,84.4 232.1,80.6 235.1,78.4 244.9,77.6 249.6,75.1 251.4,73.4 252.9,68.6 257.6,63.9 259.4,63.1Z" fill="#40f070" fill-rule="evenodd" shape-rendering="crispEdges"/><path d="M274.4,63.4 273.1,64.1 272.4,65.6 272.1,71.4 271.4,73.6 269.6,74.9 266.9,75.4 265.6,76.4 265.6,77.4 268.1,81.6 268.1,92.9 268.6,96.1 270.4,97.6 272.9,96.1 274.4,95.9 277.9,98.4 280.6,98.9 287.4,98.9 290.1,98.4 291.1,97.6 291.9,95.6 292.1,79.9 291.6,76.6 288.9,73.1 286.9,67.9 283.1,64.1 280.6,63.1ZM277.4,33.1 276.1,35.4 276.1,39.6 276.6,41.4 283.4,49.4 284.1,52.9 287.6,57.6 288.4,60.4 289.4,61.6 291.4,61.4 298.9,55.4 301.4,55.1 303.4,56.6 303.9,57.9 303.9,66.1 304.9,71.6 303.9,79.9 304.1,84.6 307.9,90.4 308.4,99.6 309.4,100.9 312.4,101.6 312.4,30.4 300.6,31.4 295.6,30.1 288.4,30.1ZM225.4,26.1 225.4,71.6 225.9,72.1 225.4,73.1 225.4,142.9 270.1,142.9 271.6,143.4 278.4,151.4 279.9,151.9 303.6,151.6 307.9,151.1 310.4,150.1 311.4,148.1 311.9,145.4 312.1,132.9 309.9,131.4 284.1,131.1 281.6,130.4 276.6,125.9 273.9,124.6 269.9,125.6 260.9,126.1 253.6,128.1 238.4,128.1 234.6,127.4 231.1,125.1 231.4,119.1 227.9,112.1 227.9,85.1 229.4,76.4 230.1,75.4 231.4,74.9 239.9,74.9 243.4,73.9 256.9,60.1 263.1,58.1 267.1,54.1 267.9,52.4 268.1,45.6 269.6,39.4 269.9,34.4 267.9,26.1Z" fill="#90f000" fill-rule="evenodd" shape-rendering="crispEdges"/><path d="M225.4,121.4 225.4,140.9 270.6,140.9 273.4,143.1 277.4,148.6 279.1,149.9 299.1,149.9 305.4,149.4 309.1,148.1 310.9,145.6 311.6,136.6 309.6,135.4 287.9,135.1 284.6,134.6 280.4,133.1 275.4,128.6 273.9,127.9 262.1,128.4 256.4,130.1 235.6,130.1 233.1,129.6 230.6,128.4 228.1,125.1 227.4,121.6ZM225.4,76.9 225.4,119.1 226.4,119.1 227.1,118.4 225.9,111.9 225.9,85.4 226.4,78.1ZM278.4,73.9 276.9,74.4 275.1,76.6 274.9,84.6 275.6,86.6 279.9,90.9 282.6,91.6 284.1,90.9 288.4,86.4 288.9,84.9 288.9,77.9 288.1,76.1 285.6,74.1ZM285.9,31.9 284.4,32.6 282.9,34.9 282.9,43.1 283.9,45.9 286.9,49.9 287.9,53.9 289.1,55.1 290.6,55.9 293.9,55.6 299.9,51.1 300.9,49.6 301.4,43.9 302.4,42.1 304.6,43.6 306.6,46.1 307.1,84.1 309.1,87.1 311.9,88.1 311.9,31.9 305.4,32.1 302.4,34.4 301.6,34.4 298.9,32.1 296.4,31.4 289.6,31.1ZM263.9,26.1 225.4,26.1 225.4,63.4 232.6,69.9 235.1,70.9 240.1,70.9 242.4,70.1 254.9,58.1 257.6,56.4 262.1,54.6 263.4,53.4 264.6,50.9 265.1,45.6 267.1,40.6 267.9,37.1 267.6,32.6 266.4,30.4 264.6,28.6Z" fill="#c8f000" fill-rule="evenodd" shape-rendering="crispEdges"/><path d="M225.4,125.1 225.4,138.9 270.9,138.9 272.6,140.1 276.9,146.1 279.6,148.1 293.1,148.1 304.1,147.4 308.1,145.9 309.4,144.6 310.6,141.4 310.6,138.9 309.1,138.1 285.1,137.6 277.9,134.9 274.4,131.9 271.9,131.1 263.9,131.1 255.9,132.4 233.1,132.1 229.1,130.4 226.9,127.9ZM279.4,76.6 278.4,77.1 277.6,78.4 277.6,83.9 280.9,87.4 282.6,87.6 284.4,86.4 286.4,83.9 286.4,78.6 284.6,76.6ZM308.4,33.4 305.9,34.6 305.4,38.4 306.1,40.9 308.6,43.4 309.4,45.4 309.4,81.4 309.9,84.1 311.4,85.4 311.4,33.4ZM290.9,32.1 287.9,32.6 285.9,33.9 285.1,37.9 285.4,43.1 285.9,44.6 288.4,47.1 289.9,52.1 290.9,53.1 292.4,53.4 294.1,52.6 298.4,48.1 298.9,36.6 298.6,34.9 297.6,33.4 295.1,32.4ZM259.9,26.1 227.9,26.1 227.9,27.9 227.1,29.4 225.4,30.6 225.4,55.1 227.6,56.9 228.4,60.1 229.6,62.1 233.9,66.1 236.1,66.9 240.1,66.9 242.4,66.1 252.1,57.1 258.6,53.6 261.9,50.6 262.6,48.9 263.1,44.9 265.9,38.1 266.1,34.1 265.4,32.4 260.4,28.1Z" fill="#ffff00" fill-rule="evenodd" shape-rendering="crispEdges"/><path d="M276.4,139.9 277.4,144.4 278.1,145.6 279.1,146.1 295.6,146.1 302.9,145.4 306.4,144.1 307.9,142.9 308.9,140.6 303.1,140.1 284.9,140.1 282.1,139.4 276.9,139.4ZM225.4,131.6 225.4,136.6 270.4,136.6 271.6,137.1 273.6,139.4 275.1,138.6 274.9,137.1 272.4,135.4 247.9,135.4 243.1,134.4 232.6,135.4 228.9,134.4ZM289.6,34.1 288.4,35.9 288.6,41.1 293.1,45.6 294.4,45.6 295.6,43.4 295.4,35.1 293.6,33.9ZM255.9,26.1 232.1,26.1 231.4,29.4 228.6,32.9 227.9,35.9 228.1,48.4 228.9,50.1 231.6,53.4 232.6,57.6 237.4,62.4 241.1,62.6 242.4,62.1 248.1,57.1 256.9,51.9 259.9,48.6 262.9,40.1 263.6,34.9 261.6,32.1 258.4,30.1 256.4,28.1Z" fill="#ffc000" fill-rule="evenodd" shape-rendering="crispEdges"/><path d="M281.9,144.4 295.9,144.1 302.6,143.1 297.1,142.1 290.9,142.1 283.6,143.4ZM251.9,26.1 236.1,26.1 235.4,29.4 231.6,34.4 230.9,39.6 231.4,46.9 232.4,49.1 235.4,52.6 236.6,56.6 238.4,58.4 241.9,58.4 250.4,53.6 253.1,51.6 257.4,47.4 258.4,45.6 259.9,39.4 259.6,34.4 257.6,32.1 252.9,28.9Z" fill="#ffa000" fill-rule="evenodd" shape-rendering="crispEdges"/><path d="M249.9,30.1 241.4,29.9 237.9,31.4 234.6,34.6 233.6,36.4 233.6,45.6 236.6,49.6 241.4,54.1 244.1,54.1 247.4,52.9 249.1,51.6 255.4,44.9 255.9,42.9 255.6,34.4 253.6,32.1Z" fill="#e07030" fill-rule="evenodd" shape-rendering="crispEdges"/><path d="M249.9,32.9 247.1,32.4 241.6,32.9 239.4,34.4 236.6,37.6 236.6,44.4 237.1,45.4 242.6,50.4 244.4,50.6 246.4,49.9 250.9,45.4 251.6,43.9 251.6,34.9Z" fill="#d04050" fill-rule="evenodd" shape-rendering="crispEdges"/><path d="M225.4,26.1 225.4,159.4 270.6,159.4 273.1,160.9 276.6,164.6 279.4,166.4 314.6,166.1 318.4,165.1 319.9,162.4 320.4,154.1 320.4,26.1ZM225.4,26.1 225.4,157.4 270.9,157.4 273.4,159.1 277.6,163.6 279.6,164.6 315.1,164.6 316.4,164.1 316.9,162.9 316.9,26.1ZM225.4,26.1 225.4,155.4 270.9,155.4 277.4,161.6 279.1,162.6 314.4,162.6 315.1,161.4 315.1,26.1ZM225.4,26.1 225.4,153.4 271.1,153.4 279.1,160.9 313.6,160.6 314.4,159.9 314.6,26.1ZM225.4,26.1 225.4,151.1 270.4,151.1 271.6,151.6 277.9,158.4 279.4,159.1 310.6,159.1 312.9,158.6 313.6,157.9 314.1,155.1 314.1,26.1ZM225.4,26.1 225.4,149.1 270.6,149.1 272.4,150.1 278.4,156.9 279.9,157.4 310.6,157.1 312.1,156.6 313.1,155.4 313.6,151.9 313.6,26.1ZM238.4,87.4 241.6,87.1 243.1,87.9 247.1,91.9 248.6,97.4 251.6,100.6 252.1,102.4 252.1,111.1 251.6,113.1 250.1,114.6 246.6,114.9 244.9,113.9 244.1,112.6 243.4,108.6 240.4,105.4 239.4,100.6 236.4,97.1 235.9,94.4 236.1,90.1 236.9,88.6ZM225.4,26.1 225.4,147.1 270.6,147.1 272.1,147.9 276.4,153.1 279.1,155.4 307.4,155.4 311.4,154.6 312.6,152.6 313.1,148.6 313.4,26.1ZM306.4,111.1 309.6,111.1 310.6,111.6 311.9,113.4 311.9,120.6 310.9,122.1 309.4,122.9 305.9,122.6 304.1,120.6 303.9,114.4 304.6,112.4ZM286.4,111.1 289.6,111.1 290.6,111.6 291.9,113.4 292.1,122.1 291.9,123.4 290.4,124.9 289.1,124.9 286.4,123.4 283.1,122.9 281.4,121.9 280.1,119.9 280.1,117.4 280.9,115.9 284.9,111.9ZM250.1,79.6 254.1,82.9 259.6,88.9 260.1,91.6 259.9,108.4 258.9,110.4 256.9,112.4 255.9,116.6 254.6,118.4 252.9,119.1 243.1,119.1 240.9,118.1 232.4,108.9 232.1,89.6 232.9,87.6 234.6,85.9 236.1,82.4 237.4,80.9 240.9,80.1ZM225.4,26.1 225.4,145.1 270.9,145.1 273.4,147.1 277.1,152.1 279.4,153.6 302.1,153.6 310.6,152.6 311.9,150.9 312.4,148.4 312.6,127.1 294.6,127.1 292.1,127.9 287.9,127.9 282.6,126.9 277.4,122.9 273.9,121.6 272.4,120.4 271.9,118.9 271.9,110.4 272.9,107.9 276.6,104.1 278.6,103.1 296.6,102.9 298.4,103.4 301.6,105.9 303.4,105.4 305.6,103.6 312.9,104.4 312.9,28.9 300.6,29.4 296.6,28.6 287.4,28.6 273.9,30.4 272.4,28.9 271.9,26.1ZM297.4,68.1 298.9,68.1 301.9,72.1 301.9,73.9 301.1,75.4 298.9,77.9 297.4,77.9 296.6,77.1 295.9,74.4 296.1,69.9ZM265.6,63.4 266.9,64.6 266.6,65.9 265.1,66.9 261.6,67.6 260.1,70.4 260.4,77.1 263.9,82.1 264.1,95.9 264.9,98.1 266.9,100.9 266.4,102.6 264.4,105.6 263.9,120.6 261.9,122.6 257.1,123.6 253.6,125.6 241.6,125.9 237.6,125.4 234.4,122.6 233.1,116.9 230.4,113.1 229.6,111.1 229.6,86.4 230.1,84.4 232.1,80.6 235.1,78.4 244.9,77.6 249.6,75.1 251.4,73.4 252.9,68.6 257.6,63.9 259.4,63.1ZM274.4,63.4 273.1,64.1 272.4,65.6 272.1,71.4 271.4,73.6 269.6,74.9 266.9,75.4 265.6,76.4 265.6,77.4 268.1,81.6 268.1,92.9 268.6,96.1 270.4,97.6 272.9,96.1 274.4,95.9 277.9,98.4 280.6,98.9 287.4,98.9 290.1,98.4 291.1,97.6 291.9,95.6 292.1,79.9 291.6,76.6 288.9,73.1 286.9,67.9 283.1,64.1 280.6,63.1ZM277.4,33.1 276.1,35.4 276.1,39.6 276.6,41.4 283.4,49.4 284.1,52.9 287.6,57.6 288.4,60.4 289.4,61.6 291.4,61.4 298.9,55.4 301.4,55.1 303.4,56.6 303.9,57.9 303.9,66.1 304.9,71.6 303.9,79.9 304.1,84.6 307.9,90.4 308.4,99.6 309.4,100.9 312.4,101.6 312.4,30.4 300.6,31.4 295.6,30.1 288.4,30.1ZM225.4,26.1 225.4,71.6 225.9,72.1 225.4,73.1 225.4,142.9 270.1,142.9 271.6,143.4 278.4,151.4 279.9,151.9 303.6,151.6 307.9,151.1 310.4,150.1 311.4,148.1 311.9,145.4 312.1,132.9 309.9,131.4 284.1,131.1 281.6,130.4 276.6,125.9 273.9,124.6 269.9,125.6 260.9,126.1 253.6,128.1 238.4,128.1 234.6,127.4 231.1,125.1 231.4,119.1 227.9,112.1 227.9,85.1 229.4,76.4 230.1,75.4 231.4,74.9 239.9,74.9 243.4,73.9 256.9,60.1 263.1,58.1 267.1,54.1 267.9,52.4 268.1,45.6 269.6,39.4 269.9,34.4 267.9,26.1ZM225.4,121.4 225.4,140.9 270.6,140.9 273.4,143.1 277.4,148.6 279.1,149.9 299.1,149.9 305.4,149.4 309.1,148.1 310.9,145.6 311.6,136.6 309.6,135.4 287.9,135.1 284.6,134.6 280.4,133.1 275.4,128.6 273.9,127.9 262.1,128.4 256.4,130.1 235.6,130.1 233.1,129.6 230.6,128.4 228.1,125.1 227.4,121.6ZM225.4,76.9 225.4,119.1 226.4,119.1 227.1,118.4 225.9,111.9 225.9,85.4 226.4,78.1ZM278.4,73.9 276.9,74.4 275.1,76.6 274.9,84.6 275.6,86.6 279.9,90.9 282.6,91.6 284.1,90.9 288.4,86.4 288.9,84.9 288.9,77.9 288.1,76.1 285.6,74.1ZM285.9,31.9 284.4,32.6 282.9,34.9 282.9,43.1 283.9,45.9 286.9,49.9 287.9,53.9 289.1,55.1 290.6,55.9 293.9,55.6 299.9,51.1 300.9,49.6 301.4,43.9 302.4,42.1 304.6,43.6 306.6,46.1 307.1,84.1 309.1,87.1 311.9,88.1 311.9,31.9 305.4,32.1 302.4,34.4 301.6,34.4 298.9,32.1 296.4,31.4 289.6,31.1ZM263.9,26.1 225.4,26.1 225.4,63.4 232.6,69.9 235.1,70.9 240.1,70.9 242.4,70.1 254.9,58.1 257.6,56.4 262.1,54.6 263.4,53.4 264.6,50.9 265.1,45.6 267.1,40.6 267.9,37.1 267.6,32.6 266.4,30.4 264.6,28.6ZM225.4,125.1 225.4,138.9 270.9,138.9 272.6,140.1 276.9,146.1 279.6,148.1 293.1,148.1 304.1,147.4 308.1,145.9 309.4,144.6 310.6,141.4 310.6,138.9 309.1,138.1 285.1,137.6 277.9,134.9 274.4,131.9 271.9,131.1 263.9,131.1 255.9,132.4 233.1,132.1 229.1,130.4 226.9,127.9ZM279.4,76.6 278.4,77.1 277.6,78.4 277.6,83.9 280.9,87.4 282.6,87.6 284.4,86.4 286.4,83.9 286.4,78.6 284.6,76.6ZM308.4,33.4 305.9,34.6 305.4,38.4 306.1,40.9 308.6,43.4 309.4,45.4 309.4,81.4 309.9,84.1 311.4,85.4 311.4,33.4ZM290.9,32.1 287.9,32.6 285.9,33.9 285.1,37.9 285.4,43.1 285.9,44.6 288.4,47.1 289.9,52.1 290.9,53.1 292.4,53.4 294.1,52.6 298.4,48.1 298.9,36.6 298.6,34.9 297.6,33.4 295.1,32.4ZM259.9,26.1 227.9,26.1 227.9,27.9 227.1,29.4 225.4,30.6 225.4,55.1 227.6,56.9 228.4,60.1 229.6,62.1 233.9,66.1 236.1,66.9 240.1,66.9 242.4,66.1 252.1,57.1 258.6,53.6 261.9,50.6 262.6,48.9 263.1,44.9 265.9,38.1 266.1,34.1 265.4,32.4 260.4,28.1ZM276.4,139.9 277.4,144.4 278.1,145.6 279.1,146.1 295.6,146.1 302.9,145.4 306.4,144.1 307.9,142.9 308.9,140.6 303.1,140.1 284.9,140.1 282.1,139.4 276.9,139.4ZM225.4,131.6 225.4,136.6 270.4,136.6 271.6,137.1 273.6,139.4 275.1,138.6 274.9,137.1 272.4,135.4 247.9,135.4 243.1,134.4 232.6,135.4 228.9,134.4ZM289.6,34.1 288.4,35.9 288.6,41.1 293.1,45.6 294.4,45.6 295.6,43.4 295.4,35.1 293.6,33.9ZM255.9,26.1 232.1,26.1 231.4,29.4 228.6,32.9 227.9,35.9 228.1,48.4 228.9,50.1 231.6,53.4 232.6,57.6 237.4,62.4 241.1,62.6 242.4,62.1 248.1,57.1 256.9,51.9 259.9,48.6 262.9,40.1 263.6,34.9 261.6,32.1 258.4,30.1 256.4,28.1ZM281.9,144.4 295.9,144.1 302.6,143.1 297.1,142.1 290.9,142.1 283.6,143.4ZM251.9,26.1 236.1,26.1 235.4,29.4 231.6,34.4 230.9,39.6 231.4,46.9 232.4,49.1 235.4,52.6 236.6,56.6 238.4,58.4 241.9,58.4 250.4,53.6 253.1,51.6 257.4,47.4 258.4,45.6 259.9,39.4 259.6,34.4 257.6,32.1 252.9,28.9ZM249.9,30.1 241.4,29.9 237.9,31.4 234.6,34.6 233.6,36.4 233.6,45.6 236.6,49.6 241.4,54.1 244.1,54.1 247.4,52.9 249.1,51.6 255.4,44.9 255.9,42.9 255.6,34.4 253.6,32.1ZM249.9,32.9 247.1,32.4 241.6,32.9 239.4,34.4 236.6,37.6 236.6,44.4 237.1,45.4 242.6,50.4 244.4,50.6 246.4,49.9 250.9,45.4 251.6,43.9 251.6,34.9Z" fill="none" stroke="#000" stroke-width="1.0" shape-rendering="crispEdges"/>
<rect x="67.5" y="26.5" width="269.0" height="189.0" fill="none" stroke="#000" stroke-width="1" shape-rendering="crispEdges"/>
<path d="M67.5,26.5h7M336.5,26.5h-7M67.5,29.5h4M336.5,29.5h-4M67.5,32.5h4M336.5,32.5h-4M67.5,35.5h4M336.5,35.5h-4M67.5,39.5h4M336.5,39.5h-4M67.5,42.5h4M336.5,42.5h-4M67.5,45.5h4M336.5,45.5h-4M67.5,48.5h4M336.5,48.5h-4M67.5,51.5h4M336.5,51.5h-4M67.5,54.5h4M336.5,54.5h-4M67.5,58.5h7M336.5,58.5h-7M67.5,61.5h4M336.5,61.5h-4M67.5,64.5h4M336.5,64.5h-4M67.5,67.5h4M336.5,67.5h-4M67.5,70.5h4M336.5,70.5h-4M67.5,73.5h4M336.5,73.5h-4M67.5,76.5h4M336.5,76.5h-4M67.5,80.5h4M336.5,80.5h-4M67.5,83.5h4M336.5,83.5h-4M67.5,86.5h4M336.5,86.5h-4M67.5,89.5h7M336.5,89.5h-7M67.5,92.5h4M336.5,92.5h-4M67.5,95.5h4M336.5,95.5h-4M67.5,98.5h4M336.5,98.5h-4M67.5,102.5h4M336.5,102.5h-4M67.5,105.5h4M336.5,105.5h-4M67.5,108.5h4M336.5,108.5h-4M67.5,111.5h4M336.5,111.5h-4M67.5,114.5h4M336.5,114.5h-4M67.5,117.5h4M336.5,117.5h-4M67.5,121.5h7M336.5,121.5h-7M67.5,124.5h4M336.5,124.5h-4M67.5,127.5h4M336.5,127.5h-4M67.5,130.5h4M336.5,130.5h-4M67.5,133.5h4M336.5,133.5h-4M67.5,136.5h4M336.5,136.5h-4M67.5,139.5h4M336.5,139.5h-4M67.5,143.5h4M336.5,143.5h-4M67.5,146.5h4M336.5,146.5h-4M67.5,149.5h4M336.5,149.5h-4M67.5,152.5h7M336.5,152.5h-7M67.5,155.5h4M336.5,155.5h-4M67.5,158.5h4M336.5,158.5h-4M67.5,161.5h4M336.5,161.5h-4M67.5,165.5h4M336.5,165.5h-4M67.5,168.5h4M336.5,168.5h-4M67.5,171.5h4M336.5,171.5h-4M67.5,174.5h4M336.5,174.5h-4M67.5,177.5h4M336.5,177.5h-4M67.5,180.5h4M336.5,180.5h-4M67.5,184.5h7M336.5,184.5h-7M67.5,187.5h4M336.5,187.5h-4M67.5,190.5h4M336.5,190.5h-4M67.5,193.5h4M336.5,193.5h-4M67.5,196.5h4M336.5,196.5h-4M67.5,199.5h4M336.5,199.5h-4M67.5,202.5h4M336.5,202.5h-4M67.5,206.5h4M336.5,206.5h-4M67.5,209.5h4M336.5,209.5h-4M67.5,212.5h4M336.5,212.5h-4M67.5,215.5h7M336.5,215.5h-7M67.5,215.5v-4M67.5,26.5v4M134.5,215.5v-4M134.5,26.5v4M202.5,215.5v-4M202.5,26.5v4M269.5,215.5v-4M269.5,26.5v4M336.5,215.5v-4M336.5,26.5v4" stroke="#000" stroke-width="1" fill="none" shape-rendering="crispEdges"/>
<text transform="translate(63.5,32.9) scale(0.768,1)" text-anchor="end">120</text>
<text transform="translate(63.5,62) scale(0.768,1)" text-anchor="end">110</text>
<text transform="translate(63.5,92.5) scale(0.768,1)" text-anchor="end">100</text>
<text transform="translate(63.5,124.8) scale(0.768,1)" text-anchor="end">90</text>
<text transform="translate(63.5,155.9) scale(0.768,1)" text-anchor="end">80</text>
<text transform="translate(63.5,187) scale(0.768,1)" text-anchor="end">70</text>
<text transform="translate(63.5,214.5) scale(0.768,1)" text-anchor="end">60</text>
<text transform="translate(66.4,229.8) scale(0.768,1)" text-anchor="middle">−90</text>
<text transform="translate(133.7,229.8) scale(0.768,1)" text-anchor="middle">0</text>
<text transform="translate(201.25,229.8) scale(0.768,1)" text-anchor="middle">90</text>
<text transform="translate(268.6,229.8) scale(0.768,1)" text-anchor="middle">0</text>
<text transform="translate(335.8,229.8) scale(0.768,1)" text-anchor="middle">−90</text>
<text transform="translate(201.5,242.6) scale(0.768,1)" text-anchor="middle">Lat (deg)</text>
<text transform="translate(201.5,20) scale(0.768,1)" text-anchor="middle">Inverted Winds Zonal (coldside)</text>
<text transform="translate(37,54.8) scale(0.768,1)" text-anchor="middle">A</text>
<text transform="translate(37,65.3) scale(0.768,1)" text-anchor="middle">l</text>
<text transform="translate(37,75.8) scale(0.768,1)" text-anchor="middle">t</text>
<text transform="translate(37,86.3) scale(0.768,1)" text-anchor="middle">i</text>
<text transform="translate(37,96.8) scale(0.768,1)" text-anchor="middle">t</text>
<text transform="translate(37,107.3) scale(0.768,1)" text-anchor="middle">u</text>
<text transform="translate(37,117.8) scale(0.768,1)" text-anchor="middle">d</text>
<text transform="translate(37,128.3) scale(0.768,1)" text-anchor="middle">e</text>
<text transform="translate(37,149.3) scale(0.768,1)" text-anchor="middle">(</text>
<text transform="translate(37,159.8) scale(0.768,1)" text-anchor="middle">k</text>
<text transform="translate(37,170.3) scale(0.768,1)" text-anchor="middle">m</text>
<text transform="translate(37,180.8) scale(0.768,1)" text-anchor="middle">)</text>
<rect x="365.5" y="206.10" width="28.0" height="9.70" fill="#200040" shape-rendering="crispEdges"/>
<rect x="365.5" y="196.70" width="28.0" height="9.70" fill="#400090" shape-rendering="crispEdges"/>
<rect x="365.5" y="187.30" width="28.0" height="9.70" fill="#1010b8" shape-rendering="crispEdges"/>
<rect x="365.5" y="177.90" width="28.0" height="9.70" fill="#0028ff" shape-rendering="crispEdges"/>
<rect x="365.5" y="168.50" width="28.0" height="9.70" fill="#0068f0" shape-rendering="crispEdges"/>
<rect x="365.5" y="159.10" width="28.0" height="9.70" fill="#00b0f0" shape-rendering="crispEdges"/>
<rect x="365.5" y="149.70" width="28.0" height="9.70" fill="#00dcd0" shape-rendering="crispEdges"/>
<rect x="365.5" y="140.30" width="28.0" height="9.70" fill="#00f0b0" shape-rendering="crispEdges"/>
<rect x="365.5" y="130.90" width="28.0" height="9.70" fill="#40f070" shape-rendering="crispEdges"/>
<rect x="365.5" y="121.50" width="28.0" height="9.70" fill="#90f000" shape-rendering="crispEdges"/>
<rect x="365.5" y="112.10" width="28.0" height="9.70" fill="#c8f000" shape-rendering="crispEdges"/>
<rect x="365.5" y="102.70" width="28.0" height="9.70" fill="#ffff00" shape-rendering="crispEdges"/>
<rect x="365.5" y="93.30" width="28.0" height="9.70" fill="#ffc000" shape-rendering="crispEdges"/>
<rect x="365.5" y="83.90" width="28.0" height="9.70" fill="#ffa000" shape-rendering="crispEdges"/>
<rect x="365.5" y="74.50" width="28.0" height="9.70" fill="#e07030" shape-rendering="crispEdges"/>
<rect x="365.5" y="65.10" width="28.0" height="9.70" fill="#d04050" shape-rendering="crispEdges"/>
<rect x="365.5" y="55.70" width="28.0" height="9.70" fill="#e02058" shape-rendering="crispEdges"/>
<rect x="365.5" y="46.30" width="28.0" height="9.70" fill="#ff0060" shape-rendering="crispEdges"/>
<rect x="365.5" y="36.90" width="28.0" height="9.70" fill="#f030a0" shape-rendering="crispEdges"/>
<rect x="365.5" y="27.50" width="28.0" height="9.70" fill="#ff50ff" shape-rendering="crispEdges"/>
<rect x="365.5" y="27.5" width="28.0" height="188.0" fill="none" stroke="#000" shape-rendering="crispEdges"/>
<path d="M393.5,51.5h-8M393.5,74.5h-8M393.5,98.5h-8M393.5,121.5h-8M393.5,145.5h-8M393.5,168.5h-8M393.5,192.5h-8" stroke="#000" fill="none" shape-rendering="crispEdges"/>
<text transform="translate(434.5,29.0) scale(0.768,1)" text-anchor="end">200.0</text>
<text transform="translate(434.5,52.45) scale(0.768,1)" text-anchor="end">150.0</text>
<text transform="translate(434.5,75.9) scale(0.768,1)" text-anchor="end">100.0</text>
<text transform="translate(434.5,99.35) scale(0.768,1)" text-anchor="end">50.0</text>
<text transform="translate(434.5,122.8) scale(0.768,1)" text-anchor="end">0.0</text>
<text transform="translate(434.5,146.25) scale(0.768,1)" text-anchor="end">−50.0</text>
<text transform="translate(434.5,169.7) scale(0.768,1)" text-anchor="end">−100.0</text>
<text transform="translate(434.5,193.15) scale(0.768,1)" text-anchor="end">−150.0</text>
<text transform="translate(434.5,216.6) scale(0.768,1)" text-anchor="end">−200.0</text>
</g><g transform="translate(0,270)">
<path d="M144.9,58.1 117.6,58.4 114.4,59.9 112.4,61.9 111.1,64.4 110.9,161.1 111.9,163.6 115.4,166.4 130.9,166.6 134.4,163.6 140.1,156.9 141.1,156.4 146.9,156.4 148.9,155.9 152.1,153.4 153.1,151.1 153.4,66.6 152.9,64.1 151.1,61.1 147.4,58.6Z" fill="#200040" fill-rule="evenodd" shape-rendering="crispEdges"/><path d="M144.9,58.1 117.6,58.4 114.4,59.9 112.4,61.9 111.1,64.4 110.9,161.1 111.9,163.6 115.4,166.4 130.9,166.6 134.4,163.6 140.1,156.9 141.1,156.4 146.9,156.4 148.9,155.9 152.1,153.4 153.1,151.1 153.4,66.6 152.9,64.1 151.1,61.1 147.4,58.6Z" fill="#400090" fill-rule="evenodd" shape-rendering="crispEdges"/><path d="M148.1,62.1 116.1,62.1 113.6,64.9 113.4,160.9 114.4,162.6 130.9,162.6 134.4,159.6 140.1,152.9 141.1,152.4 149.4,152.4 150.6,150.9 150.9,66.6 150.1,64.1Z" fill="#1010b8" fill-rule="evenodd" shape-rendering="crispEdges"/><path d="M149.4,64.1 114.9,64.1 113.9,65.6 113.9,158.9 114.4,159.4 130.6,159.4 132.1,158.6 140.1,149.6 141.1,149.1 148.1,149.1 150.1,148.6 150.4,66.4Z" fill="#0028ff" fill-rule="evenodd" shape-rendering="crispEdges"/><path d="M115.6,66.1 114.4,66.9 114.1,151.9 114.4,155.1 115.1,156.1 130.6,156.1 134.1,153.4 138.4,147.9 140.4,146.1 141.9,145.6 149.1,145.6 149.6,145.1 149.9,67.4 149.4,66.4Z" fill="#0068f0" fill-rule="evenodd" shape-rendering="crispEdges"/><path d="M148.6,68.4 117.1,68.1 115.4,68.4 114.9,69.1 114.6,148.9 115.1,152.1 116.1,152.9 130.6,152.9 134.1,150.1 138.1,144.9 140.4,142.9 141.6,142.4 148.4,142.4 149.1,141.4 149.4,69.6Z" fill="#00b0f0" fill-rule="evenodd" shape-rendering="crispEdges"/><path d="M147.9,70.4 119.9,70.1 116.1,70.4 115.4,71.4 115.1,145.4 115.4,147.9 116.4,149.4 126.9,149.6 127.4,146.9 129.9,145.6 130.6,144.6 131.4,138.9 133.9,137.6 134.6,136.6 134.9,132.1 135.4,130.9 136.4,130.1 140.9,129.9 142.6,130.9 143.1,132.1 143.1,139.1 147.4,139.1 148.6,137.9 149.1,125.9 148.9,71.9Z" fill="#00dcd0" fill-rule="evenodd" shape-rendering="crispEdges"/><path d="M147.6,72.6 138.9,72.1 117.1,72.4 115.9,73.6 115.6,141.6 116.1,144.9 116.9,145.9 118.9,146.1 118.9,132.1 120.1,130.1 121.9,129.6 122.6,128.6 123.4,122.9 125.9,121.6 127.1,119.1 128.1,118.1 129.9,117.6 131.9,114.4 138.1,113.4 139.1,111.1 142.4,109.1 143.4,102.9 145.9,101.6 147.1,99.1 148.6,98.1 148.4,74.4Z" fill="#00f0b0" fill-rule="evenodd" shape-rendering="crispEdges"/><path d="M147.4,75.1 145.1,74.4 118.9,74.4 116.6,75.4 116.1,77.4 115.9,122.4 117.9,121.6 119.1,119.1 120.1,118.1 121.9,117.6 123.1,115.1 124.1,114.1 125.9,113.6 127.1,111.1 128.1,110.1 129.9,109.6 131.1,107.1 132.1,106.1 133.9,105.6 135.1,103.1 136.1,102.1 137.9,101.6 140.1,98.1 142.4,97.1 143.4,90.9 145.9,89.6 148.1,86.1 148.1,79.9Z" fill="#40f070" fill-rule="evenodd" shape-rendering="crispEdges"/><path d="M146.1,77.1 142.4,76.4 121.9,76.4 118.6,76.9 117.1,78.1 116.4,85.9 116.4,114.4 118.6,112.9 119.9,110.6 122.6,108.9 123.9,106.6 126.6,104.9 127.9,102.6 130.6,100.9 131.9,98.6 134.6,96.9 135.9,94.6 138.4,93.1 139.1,87.6 139.9,86.6 141.9,85.6 143.6,82.9 145.9,81.6 146.6,80.6 146.9,78.1Z" fill="#90f000" fill-rule="evenodd" shape-rendering="crispEdges"/><path d="M142.6,78.9 127.9,78.4 121.6,78.9 118.6,80.1 117.6,82.6 117.1,86.4 116.9,109.9 118.1,109.1 120.1,106.1 122.1,105.1 124.1,102.1 126.1,101.1 128.1,98.1 130.1,97.1 132.1,94.1 134.1,93.1 134.9,91.6 135.1,87.6 138.4,84.9 140.1,82.4 142.1,81.1 142.9,79.6Z" fill="#c8f000" fill-rule="evenodd" shape-rendering="crispEdges"/><path d="M137.6,81.4 124.9,81.4 121.6,82.1 119.4,83.9 118.1,88.6 117.9,101.6 119.1,99.1 120.1,98.1 121.9,97.6 123.1,95.1 124.1,94.1 125.9,93.6 127.1,91.1 128.1,90.1 129.9,89.6 131.1,87.1 134.1,85.1 135.1,83.1Z" fill="#ffff00" fill-rule="evenodd" shape-rendering="crispEdges"/><path d="M126.6,84.4 124.6,84.6 121.9,85.9 124.9,85.9 126.1,85.4Z" fill="#ffc000" fill-rule="evenodd" shape-rendering="crispEdges"/><path d="M144.9,58.1 117.6,58.4 114.4,59.9 112.4,61.9 111.1,64.4 110.9,161.1 111.9,163.6 115.4,166.4 130.9,166.6 134.4,163.6 140.1,156.9 141.1,156.4 146.9,156.4 148.9,155.9 152.1,153.4 153.1,151.1 153.4,66.6 152.9,64.1 151.1,61.1 147.4,58.6ZM148.1,62.1 116.1,62.1 113.6,64.9 113.4,160.9 114.4,162.6 130.9,162.6 134.4,159.6 140.1,152.9 141.1,152.4 149.4,152.4 150.6,150.9 150.9,66.6 150.1,64.1ZM149.4,64.1 114.9,64.1 113.9,65.6 113.9,158.9 114.4,159.4 130.6,159.4 132.1,158.6 140.1,149.6 141.1,149.1 148.1,149.1 150.1,148.6 150.4,66.4ZM115.6,66.1 114.4,66.9 114.1,151.9 114.4,155.1 115.1,156.1 130.6,156.1 134.1,153.4 138.4,147.9 140.4,146.1 141.9,145.6 149.1,145.6 149.6,145.1 149.9,67.4 149.4,66.4ZM148.6,68.4 117.1,68.1 115.4,68.4 114.9,69.1 114.6,148.9 115.1,152.1 116.1,152.9 130.6,152.9 134.1,150.1 138.1,144.9 140.4,142.9 141.6,142.4 148.4,142.4 149.1,141.4 149.4,69.6ZM147.9,70.4 119.9,70.1 116.1,70.4 115.4,71.4 115.1,145.4 115.4,147.9 116.4,149.4 126.9,149.6 127.4,146.9 129.9,145.6 130.6,144.6 131.4,138.9 133.9,137.6 134.6,136.6 134.9,132.1 135.4,130.9 136.4,130.1 140.9,129.9 142.6,130.9 143.1,132.1 143.1,139.1 147.4,139.1 148.6,137.9 149.1,125.9 148.9,71.9ZM147.6,72.6 138.9,72.1 117.1,72.4 115.9,73.6 115.6,141.6 116.1,144.9 116.9,145.9 118.9,146.1 118.9,132.1 120.1,130.1 121.9,129.6 122.6,128.6 123.4,122.9 125.9,121.6 127.1,119.1 128.1,118.1 129.9,117.6 131.9,114.4 138.1,113.4 139.1,111.1 142.4,109.1 143.4,102.9 145.9,101.6 147.1,99.1 148.6,98.1 148.4,74.4ZM147.4,75.1 145.1,74.4 118.9,74.4 116.6,75.4 116.1,77.4 115.9,122.4 117.9,121.6 119.1,119.1 120.1,118.1 121.9,117.6 123.1,115.1 124.1,114.1 125.9,113.6 127.1,111.1 128.1,110.1 129.9,109.6 131.1,107.1 132.1,106.1 133.9,105.6 135.1,103.1 136.1,102.1 137.9,101.6 140.1,98.1 142.4,97.1 143.4,90.9 145.9,89.6 148.1,86.1 148.1,79.9ZM146.1,77.1 142.4,76.4 121.9,76.4 118.6,76.9 117.1,78.1 116.4,85.9 116.4,114.4 118.6,112.9 119.9,110.6 122.6,108.9 123.9,106.6 126.6,104.9 127.9,102.6 130.6,100.9 131.9,98.6 134.6,96.9 135.9,94.6 138.4,93.1 139.1,87.6 139.9,86.6 141.9,85.6 143.6,82.9 145.9,81.6 146.6,80.6 146.9,78.1ZM142.6,78.9 127.9,78.4 121.6,78.9 118.6,80.1 117.6,82.6 117.1,86.4 116.9,109.9 118.1,109.1 120.1,106.1 122.1,105.1 124.1,102.1 126.1,101.1 128.1,98.1 130.1,97.1 132.1,94.1 134.1,93.1 134.9,91.6 135.1,87.6 138.4,84.9 140.1,82.4 142.1,81.1 142.9,79.6ZM137.6,81.4 124.9,81.4 121.6,82.1 119.4,83.9 118.1,88.6 117.9,101.6 119.1,99.1 120.1,98.1 121.9,97.6 123.1,95.1 124.1,94.1 125.9,93.6 127.1,91.1 128.1,90.1 129.9,89.6 131.1,87.1 134.1,85.1 135.1,83.1ZM126.6,84.4 124.6,84.6 121.9,85.9 124.9,85.9 126.1,85.4Z" fill="none" stroke="#000" stroke-width="1.0" shape-rendering="crispEdges"/><path d="M196,59 C199.5,59.5 200.8,66 200.8,78 L200.8,138 C200.8,150 198.5,158.2 195.5,158.2 C192,158.2 189.5,150 189.5,138 L189.5,78 C189.5,66 192.5,59 196,59Z" fill="#2a0c78"/><path d="M189.4,80 L197.8,80 L197.8,136 L189.4,136Z" fill="#000"/><path d="M190.5,74 C191,70 192,68 193,70 L197,80 L191,80Z M191,136 L197.5,136 L195,146 C193,150 191.5,148 191,144Z" fill="#000"/><path d="M194.5,63 C197,66 198.5,72 198.6,84 M196.5,64 C198,68 199.5,74 199.6,82 M198.6,90 L198.6,130 M193,142 C195,148 197,152 197.5,156 M195.5,140 C197,146 198.5,150 199,154" stroke="#2040d0" stroke-width="0.8" fill="none"/><path d="M202.9,26.1 202.9,159.1 283.9,159.1 286.6,161.6 288.4,164.1 291.6,166.9 301.6,166.6 305.4,165.6 306.9,162.9 307.4,154.6 307.4,26.1Z" fill="#200040" fill-rule="evenodd" shape-rendering="crispEdges"/><path d="M202.9,26.1 202.9,159.1 283.9,159.1 286.6,161.6 288.4,164.1 291.6,166.9 301.6,166.6 305.4,165.6 306.9,162.9 307.4,154.6 307.4,26.1Z" fill="#400090" fill-rule="evenodd" shape-rendering="crispEdges"/><path d="M202.9,26.1 202.9,156.6 283.6,156.6 284.6,157.1 289.4,162.9 291.4,164.4 306.4,164.4 306.9,162.6 306.9,26.1Z" fill="#1010b8" fill-rule="evenodd" shape-rendering="crispEdges"/><path d="M202.9,26.1 202.9,154.1 283.6,154.1 284.6,154.6 289.4,160.4 291.4,161.9 305.4,161.6 306.1,160.1 306.1,26.1Z" fill="#0028ff" fill-rule="evenodd" shape-rendering="crispEdges"/><path d="M202.9,26.1 202.9,151.6 283.6,151.6 284.6,152.1 289.4,157.9 291.4,159.4 304.1,159.1 305.1,158.1 305.6,154.4 305.6,26.1Z" fill="#0068f0" fill-rule="evenodd" shape-rendering="crispEdges"/><path d="M202.9,26.1 202.9,149.1 283.6,149.1 284.6,149.6 289.4,155.4 291.4,156.9 300.4,156.9 303.6,156.1 304.4,155.1 304.9,152.4 305.1,26.1 249.6,26.1 249.1,29.1 247.1,32.6 246.6,37.1 245.4,38.6 244.1,38.6 242.9,37.4 242.4,33.1 239.6,28.4 239.4,26.1Z" fill="#00b0f0" fill-rule="evenodd" shape-rendering="crispEdges"/><path d="M202.9,26.1 202.9,146.6 283.6,146.6 286.4,148.9 290.9,154.1 297.1,154.4 302.4,153.6 303.9,151.1 304.4,145.9 304.4,26.1 251.6,26.1 251.4,28.9 249.9,33.9 250.4,44.4 249.6,54.9 249.1,56.6 245.6,61.1 243.6,60.9 242.6,59.4 242.1,50.6 238.1,45.4 237.9,39.6 238.6,32.1 237.1,28.6 236.9,26.1ZM295.1,71.9 295.6,72.9 294.1,74.1 293.4,73.1Z" fill="#00dcd0" fill-rule="evenodd" shape-rendering="crispEdges"/><path d="M202.9,26.1 202.9,79.9 205.1,80.6 206.6,83.6 205.4,90.4 205.4,116.6 204.6,122.9 204.6,129.9 202.9,131.9 202.9,144.1 242.4,144.1 242.4,141.9 243.1,139.9 246.6,136.1 246.9,132.9 247.6,130.9 253.9,125.1 260.1,124.9 263.1,125.4 264.9,127.4 265.1,144.1 283.9,144.1 291.1,151.6 298.6,151.6 301.4,150.9 303.1,148.1 303.9,137.1 303.9,26.1 291.9,26.1 290.9,28.4 287.4,29.4 270.9,29.4 268.1,30.1 265.1,29.9 261.9,28.6 260.4,26.1 253.6,26.1 251.6,33.6 251.6,37.1 252.9,44.9 251.6,50.6 251.6,59.1 250.6,62.6 250.9,69.4 249.6,70.6 248.1,71.1 238.1,71.1 235.6,70.6 234.4,69.4 234.6,67.4 236.6,65.6 237.1,64.1 236.6,62.9 234.6,61.1 234.1,59.6 234.6,58.4 237.6,55.1 237.6,51.6 234.6,46.1 234.9,38.9 236.4,32.6 234.4,26.1ZM298.1,62.1 300.6,63.9 301.9,66.1 302.1,70.6 300.4,74.6 295.4,79.4 293.4,80.1 290.9,79.9 289.9,79.4 287.6,76.6 287.6,73.1 291.4,68.6 292.6,63.4 294.4,62.1Z" fill="#00f0b0" fill-rule="evenodd" shape-rendering="crispEdges"/><path d="M303.4,26.1 295.4,26.1 294.6,29.6 293.4,30.9 290.6,31.9 276.4,31.9 271.6,32.6 271.1,33.9 273.6,36.6 274.1,38.4 274.1,53.4 272.6,55.6 270.1,55.4 267.1,53.1 265.1,50.6 264.9,34.6 264.4,33.4 262.1,31.9 258.4,30.9 255.6,30.9 254.1,32.1 253.6,36.6 256.1,42.1 256.1,45.9 253.6,51.4 253.6,54.9 255.4,58.6 255.4,60.6 253.6,63.6 253.6,64.9 258.9,72.9 258.9,77.4 255.4,80.6 253.9,82.9 252.6,83.1 249.9,80.4 244.6,78.6 241.9,76.6 239.1,75.6 218.6,75.6 216.1,76.9 213.6,83.4 209.1,88.9 207.9,91.9 207.9,116.9 206.6,122.6 206.6,129.9 205.9,132.1 204.6,133.4 202.9,133.9 202.9,141.6 233.6,141.6 234.1,139.9 237.1,137.1 238.4,131.9 242.1,127.9 243.6,123.4 245.1,121.1 247.4,120.4 252.6,120.4 256.6,121.4 262.4,121.6 270.4,120.4 272.6,121.1 277.6,126.4 277.6,128.1 274.4,131.9 274.1,139.6 273.4,141.6 283.9,141.6 291.1,149.1 298.1,148.9 300.1,148.4 301.4,147.4 302.6,143.6 303.1,137.6 303.4,102.9 299.6,98.9 297.6,98.1 294.4,97.9 292.6,96.6 291.6,91.1 288.1,86.6 288.4,83.1 287.6,81.1 279.4,73.6 279.1,71.4 279.6,68.4 278.4,62.6 278.4,56.1 278.9,54.6 282.1,51.9 284.1,49.1 286.4,47.6 288.1,45.4 290.4,44.9 291.4,45.6 291.9,46.9 292.1,54.1 292.9,56.1 294.4,57.1 298.9,57.9 301.9,60.4 303.4,60.9ZM232.1,26.1 202.9,26.1 202.9,70.9 208.9,70.6 213.4,66.9 218.9,65.6 223.6,60.9 224.9,55.6 228.9,53.1 232.1,46.4 232.4,41.4 234.1,33.6Z" fill="#40f070" fill-rule="evenodd" shape-rendering="crispEdges"/><path d="M296.9,107.1 290.9,107.1 288.4,108.4 287.6,110.4 287.4,118.1 283.6,122.1 283.1,123.9 282.9,138.9 284.4,139.4 288.9,144.6 291.6,146.6 297.1,146.1 299.9,145.1 301.4,142.9 302.1,138.9 302.6,113.1 300.6,111.4 299.1,108.4ZM272.6,59.6 270.6,59.6 267.6,61.6 263.6,62.1 261.4,63.4 260.6,65.4 260.6,68.1 261.6,72.4 261.4,78.9 260.6,80.1 257.9,82.4 256.1,86.9 254.4,88.6 248.9,88.6 247.6,87.6 246.6,83.6 245.6,82.1 240.4,80.4 220.4,80.1 217.6,81.4 215.4,87.4 212.1,90.6 211.4,92.1 211.1,117.9 208.6,122.9 207.9,131.6 204.9,135.1 202.9,135.9 202.9,139.1 228.9,139.1 229.4,135.6 239.6,124.9 240.9,122.9 242.4,118.1 244.1,116.4 246.4,115.9 252.9,115.9 258.6,118.9 262.4,118.9 264.9,117.6 268.6,114.6 269.4,112.6 269.4,105.9 270.1,103.9 272.9,101.6 275.4,98.6 281.6,97.1 286.4,91.9 286.1,90.6 283.9,87.6 284.1,86.1 285.4,84.1 285.4,81.9 282.6,79.4 278.9,77.6 276.6,75.4 276.1,74.4 276.1,71.9 276.9,69.6 276.6,67.4 274.9,64.9 273.6,60.9ZM297.9,26.1 297.6,29.6 295.4,36.9 296.6,45.4 297.6,47.9 299.6,50.6 300.9,54.4 302.9,55.9 302.9,26.1ZM228.9,26.1 202.9,26.1 202.9,66.4 208.6,65.9 212.1,62.6 218.4,60.9 219.4,59.6 220.1,54.9 221.6,51.4 222.6,50.6 225.9,50.9 227.4,49.9 228.6,46.6 229.1,42.1 231.1,38.6 231.9,35.6 231.9,32.9 229.1,27.9Z" fill="#90f000" fill-rule="evenodd" shape-rendering="crispEdges"/><path d="M289.1,124.1 287.1,125.6 286.6,126.9 286.4,138.9 288.1,141.1 291.4,143.9 297.6,142.9 299.9,141.4 300.9,138.9 301.6,133.6 301.6,126.4 300.4,124.6 298.6,123.9ZM220.6,125.9 219.1,124.4 217.6,123.9 213.6,123.9 211.6,124.6 210.4,126.6 209.9,131.4 206.4,136.4 220.9,136.4 221.1,127.4ZM219.1,94.9 218.9,100.1 219.9,102.4 221.6,103.6 224.6,107.1 226.9,108.1 230.9,108.6 234.9,112.4 248.1,112.6 251.4,111.6 253.4,109.9 254.6,110.1 257.1,112.1 259.4,112.1 261.4,109.9 261.4,99.4 260.6,98.1 254.9,92.9 252.6,92.4 241.4,92.1 239.9,91.4 238.6,89.6 236.6,88.1 226.9,87.9 224.6,88.9ZM266.1,65.9 264.6,67.1 264.1,68.4 264.4,78.9 273.9,88.9 275.1,89.6 277.4,89.6 282.4,84.1 282.9,82.4 281.4,80.6 276.9,79.1 274.9,77.1 274.1,74.9 274.4,68.4 272.9,66.4 270.6,65.4ZM301.4,26.1 301.1,28.6 298.4,35.6 298.1,37.9 302.1,47.6 302.1,26.1ZM224.4,26.1 202.9,26.1 202.9,57.4 212.4,57.4 214.4,56.6 217.6,52.9 219.4,49.9 223.9,46.1 224.9,41.6 227.9,38.1 228.6,36.4 228.6,33.4 224.9,28.4Z" fill="#c8f000" fill-rule="evenodd" shape-rendering="crispEdges"/><path d="M213.4,127.1 212.6,128.4 212.1,131.6 210.6,133.9 218.6,133.9 218.6,130.1 217.9,127.4 216.6,126.6ZM297.6,126.6 290.9,126.6 289.9,127.1 289.1,128.4 288.9,139.1 291.1,141.1 296.4,140.1 299.6,137.1 299.4,128.4 298.9,127.4ZM221.6,96.9 221.9,99.9 226.4,104.6 227.9,105.4 232.1,105.9 233.4,106.6 235.4,109.1 236.9,109.9 248.1,109.9 249.4,109.4 250.9,107.4 252.6,106.1 254.9,106.1 257.4,107.9 258.4,107.9 258.9,106.6 258.6,100.6 254.1,95.9 252.6,95.1 240.4,94.9 238.1,93.9 235.4,90.9 229.6,90.4 226.4,91.4 225.4,92.9 222.4,95.4ZM268.4,68.1 267.4,68.6 266.6,69.9 266.4,74.6 266.9,77.4 271.9,82.6 275.1,85.4 276.6,85.9 278.6,83.9 278.9,82.6 274.6,80.9 273.1,79.4 272.1,75.6 272.1,69.6 271.1,68.4ZM301.6,34.6 300.6,36.9 301.6,39.9ZM219.9,26.1 206.6,26.1 205.4,31.9 205.1,41.9 203.9,43.6 202.9,43.9 202.9,48.4 204.9,48.9 208.9,52.6 212.4,52.6 215.1,50.6 219.1,46.1 220.6,40.6 223.9,37.1 224.1,33.4 220.4,28.4Z" fill="#ffff00" fill-rule="evenodd" shape-rendering="crispEdges"/><path d="M215.9,29.9 211.4,29.6 209.6,30.4 208.1,32.4 208.1,41.6 208.6,42.9 209.6,43.6 211.9,43.9 214.6,42.6 215.6,37.9 218.9,33.9 218.6,31.9Z" fill="#ffc000" fill-rule="evenodd" shape-rendering="crispEdges"/><path d="M202.9,26.1 202.9,159.1 283.9,159.1 286.6,161.6 288.4,164.1 291.6,166.9 301.6,166.6 305.4,165.6 306.9,162.9 307.4,154.6 307.4,26.1ZM202.9,26.1 202.9,156.6 283.6,156.6 284.6,157.1 289.4,162.9 291.4,164.4 306.4,164.4 306.9,162.6 306.9,26.1ZM202.9,26.1 202.9,154.1 283.6,154.1 284.6,154.6 289.4,160.4 291.4,161.9 305.4,161.6 306.1,160.1 306.1,26.1ZM202.9,26.1 202.9,151.6 283.6,151.6 284.6,152.1 289.4,157.9 291.4,159.4 304.1,159.1 305.1,158.1 305.6,154.4 305.6,26.1ZM202.9,26.1 202.9,149.1 283.6,149.1 284.6,149.6 289.4,155.4 291.4,156.9 300.4,156.9 303.6,156.1 304.4,155.1 304.9,152.4 305.1,26.1 249.6,26.1 249.1,29.1 247.1,32.6 246.6,37.1 245.4,38.6 244.1,38.6 242.9,37.4 242.4,33.1 239.6,28.4 239.4,26.1ZM202.9,26.1 202.9,146.6 283.6,146.6 286.4,148.9 290.9,154.1 297.1,154.4 302.4,153.6 303.9,151.1 304.4,145.9 304.4,26.1 251.6,26.1 251.4,28.9 249.9,33.9 250.4,44.4 249.6,54.9 249.1,56.6 245.6,61.1 243.6,60.9 242.6,59.4 242.1,50.6 238.1,45.4 237.9,39.6 238.6,32.1 237.1,28.6 236.9,26.1ZM295.1,71.9 295.6,72.9 294.1,74.1 293.4,73.1ZM202.9,26.1 202.9,79.9 205.1,80.6 206.6,83.6 205.4,90.4 205.4,116.6 204.6,122.9 204.6,129.9 202.9,131.9 202.9,144.1 242.4,144.1 242.4,141.9 243.1,139.9 246.6,136.1 246.9,132.9 247.6,130.9 253.9,125.1 260.1,124.9 263.1,125.4 264.9,127.4 265.1,144.1 283.9,144.1 291.1,151.6 298.6,151.6 301.4,150.9 303.1,148.1 303.9,137.1 303.9,26.1 291.9,26.1 290.9,28.4 287.4,29.4 270.9,29.4 268.1,30.1 265.1,29.9 261.9,28.6 260.4,26.1 253.6,26.1 251.6,33.6 251.6,37.1 252.9,44.9 251.6,50.6 251.6,59.1 250.6,62.6 250.9,69.4 249.6,70.6 248.1,71.1 238.1,71.1 235.6,70.6 234.4,69.4 234.6,67.4 236.6,65.6 237.1,64.1 236.6,62.9 234.6,61.1 234.1,59.6 234.6,58.4 237.6,55.1 237.6,51.6 234.6,46.1 234.9,38.9 236.4,32.6 234.4,26.1ZM298.1,62.1 300.6,63.9 301.9,66.1 302.1,70.6 300.4,74.6 295.4,79.4 293.4,80.1 290.9,79.9 289.9,79.4 287.6,76.6 287.6,73.1 291.4,68.6 292.6,63.4 294.4,62.1ZM303.4,26.1 295.4,26.1 294.6,29.6 293.4,30.9 290.6,31.9 276.4,31.9 271.6,32.6 271.1,33.9 273.6,36.6 274.1,38.4 274.1,53.4 272.6,55.6 270.1,55.4 267.1,53.1 265.1,50.6 264.9,34.6 264.4,33.4 262.1,31.9 258.4,30.9 255.6,30.9 254.1,32.1 253.6,36.6 256.1,42.1 256.1,45.9 253.6,51.4 253.6,54.9 255.4,58.6 255.4,60.6 253.6,63.6 253.6,64.9 258.9,72.9 258.9,77.4 255.4,80.6 253.9,82.9 252.6,83.1 249.9,80.4 244.6,78.6 241.9,76.6 239.1,75.6 218.6,75.6 216.1,76.9 213.6,83.4 209.1,88.9 207.9,91.9 207.9,116.9 206.6,122.6 206.6,129.9 205.9,132.1 204.6,133.4 202.9,133.9 202.9,141.6 233.6,141.6 234.1,139.9 237.1,137.1 238.4,131.9 242.1,127.9 243.6,123.4 245.1,121.1 247.4,120.4 252.6,120.4 256.6,121.4 262.4,121.6 270.4,120.4 272.6,121.1 277.6,126.4 277.6,128.1 274.4,131.9 274.1,139.6 273.4,141.6 283.9,141.6 291.1,149.1 298.1,148.9 300.1,148.4 301.4,147.4 302.6,143.6 303.1,137.6 303.4,102.9 299.6,98.9 297.6,98.1 294.4,97.9 292.6,96.6 291.6,91.1 288.1,86.6 288.4,83.1 287.6,81.1 279.4,73.6 279.1,71.4 279.6,68.4 278.4,62.6 278.4,56.1 278.9,54.6 282.1,51.9 284.1,49.1 286.4,47.6 288.1,45.4 290.4,44.9 291.4,45.6 291.9,46.9 292.1,54.1 292.9,56.1 294.4,57.1 298.9,57.9 301.9,60.4 303.4,60.9ZM232.1,26.1 202.9,26.1 202.9,70.9 208.9,70.6 213.4,66.9 218.9,65.6 223.6,60.9 224.9,55.6 228.9,53.1 232.1,46.4 232.4,41.4 234.1,33.6ZM296.9,107.1 290.9,107.1 288.4,108.4 287.6,110.4 287.4,118.1 283.6,122.1 283.1,123.9 282.9,138.9 284.4,139.4 288.9,144.6 291.6,146.6 297.1,146.1 299.9,145.1 301.4,142.9 302.1,138.9 302.6,113.1 300.6,111.4 299.1,108.4ZM272.6,59.6 270.6,59.6 267.6,61.6 263.6,62.1 261.4,63.4 260.6,65.4 260.6,68.1 261.6,72.4 261.4,78.9 260.6,80.1 257.9,82.4 256.1,86.9 254.4,88.6 248.9,88.6 247.6,87.6 246.6,83.6 245.6,82.1 240.4,80.4 220.4,80.1 217.6,81.4 215.4,87.4 212.1,90.6 211.4,92.1 211.1,117.9 208.6,122.9 207.9,131.6 204.9,135.1 202.9,135.9 202.9,139.1 228.9,139.1 229.4,135.6 239.6,124.9 240.9,122.9 242.4,118.1 244.1,116.4 246.4,115.9 252.9,115.9 258.6,118.9 262.4,118.9 264.9,117.6 268.6,114.6 269.4,112.6 269.4,105.9 270.1,103.9 272.9,101.6 275.4,98.6 281.6,97.1 286.4,91.9 286.1,90.6 283.9,87.6 284.1,86.1 285.4,84.1 285.4,81.9 282.6,79.4 278.9,77.6 276.6,75.4 276.1,74.4 276.1,71.9 276.9,69.6 276.6,67.4 274.9,64.9 273.6,60.9ZM297.9,26.1 297.6,29.6 295.4,36.9 296.6,45.4 297.6,47.9 299.6,50.6 300.9,54.4 302.9,55.9 302.9,26.1ZM228.9,26.1 202.9,26.1 202.9,66.4 208.6,65.9 212.1,62.6 218.4,60.9 219.4,59.6 220.1,54.9 221.6,51.4 222.6,50.6 225.9,50.9 227.4,49.9 228.6,46.6 229.1,42.1 231.1,38.6 231.9,35.6 231.9,32.9 229.1,27.9ZM289.1,124.1 287.1,125.6 286.6,126.9 286.4,138.9 288.1,141.1 291.4,143.9 297.6,142.9 299.9,141.4 300.9,138.9 301.6,133.6 301.6,126.4 300.4,124.6 298.6,123.9ZM220.6,125.9 219.1,124.4 217.6,123.9 213.6,123.9 211.6,124.6 210.4,126.6 209.9,131.4 206.4,136.4 220.9,136.4 221.1,127.4ZM219.1,94.9 218.9,100.1 219.9,102.4 221.6,103.6 224.6,107.1 226.9,108.1 230.9,108.6 234.9,112.4 248.1,112.6 251.4,111.6 253.4,109.9 254.6,110.1 257.1,112.1 259.4,112.1 261.4,109.9 261.4,99.4 260.6,98.1 254.9,92.9 252.6,92.4 241.4,92.1 239.9,91.4 238.6,89.6 236.6,88.1 226.9,87.9 224.6,88.9ZM266.1,65.9 264.6,67.1 264.1,68.4 264.4,78.9 273.9,88.9 275.1,89.6 277.4,89.6 282.4,84.1 282.9,82.4 281.4,80.6 276.9,79.1 274.9,77.1 274.1,74.9 274.4,68.4 272.9,66.4 270.6,65.4ZM301.4,26.1 301.1,28.6 298.4,35.6 298.1,37.9 302.1,47.6 302.1,26.1ZM224.4,26.1 202.9,26.1 202.9,57.4 212.4,57.4 214.4,56.6 217.6,52.9 219.4,49.9 223.9,46.1 224.9,41.6 227.9,38.1 228.6,36.4 228.6,33.4 224.9,28.4ZM213.4,127.1 212.6,128.4 212.1,131.6 210.6,133.9 218.6,133.9 218.6,130.1 217.9,127.4 216.6,126.6ZM297.6,126.6 290.9,126.6 289.9,127.1 289.1,128.4 288.9,139.1 291.1,141.1 296.4,140.1 299.6,137.1 299.4,128.4 298.9,127.4ZM221.6,96.9 221.9,99.9 226.4,104.6 227.9,105.4 232.1,105.9 233.4,106.6 235.4,109.1 236.9,109.9 248.1,109.9 249.4,109.4 250.9,107.4 252.6,106.1 254.9,106.1 257.4,107.9 258.4,107.9 258.9,106.6 258.6,100.6 254.1,95.9 252.6,95.1 240.4,94.9 238.1,93.9 235.4,90.9 229.6,90.4 226.4,91.4 225.4,92.9 222.4,95.4ZM268.4,68.1 267.4,68.6 266.6,69.9 266.4,74.6 266.9,77.4 271.9,82.6 275.1,85.4 276.6,85.9 278.6,83.9 278.9,82.6 274.6,80.9 273.1,79.4 272.1,75.6 272.1,69.6 271.1,68.4ZM301.6,34.6 300.6,36.9 301.6,39.9ZM219.9,26.1 206.6,26.1 205.4,31.9 205.1,41.9 203.9,43.6 202.9,43.9 202.9,48.4 204.9,48.9 208.9,52.6 212.4,52.6 215.1,50.6 219.1,46.1 220.6,40.6 223.9,37.1 224.1,33.4 220.4,28.4ZM215.9,29.9 211.4,29.6 209.6,30.4 208.1,32.4 208.1,41.6 208.6,42.9 209.6,43.6 211.9,43.9 214.6,42.6 215.6,37.9 218.9,33.9 218.6,31.9Z" fill="none" stroke="#000" stroke-width="1.0" shape-rendering="crispEdges"/><path d="M300,26 L307.5,26 L307.5,150 C307.5,156 305,157 302,156 L300,150Z" fill="#000"/>
<rect x="67.5" y="26.5" width="269.0" height="189.0" fill="none" stroke="#000" stroke-width="1" shape-rendering="crispEdges"/>
<path d="M67.5,26.5h7M336.5,26.5h-7M67.5,29.5h4M336.5,29.5h-4M67.5,32.5h4M336.5,32.5h-4M67.5,35.5h4M336.5,35.5h-4M67.5,39.5h4M336.5,39.5h-4M67.5,42.5h4M336.5,42.5h-4M67.5,45.5h4M336.5,45.5h-4M67.5,48.5h4M336.5,48.5h-4M67.5,51.5h4M336.5,51.5h-4M67.5,54.5h4M336.5,54.5h-4M67.5,58.5h7M336.5,58.5h-7M67.5,61.5h4M336.5,61.5h-4M67.5,64.5h4M336.5,64.5h-4M67.5,67.5h4M336.5,67.5h-4M67.5,70.5h4M336.5,70.5h-4M67.5,73.5h4M336.5,73.5h-4M67.5,76.5h4M336.5,76.5h-4M67.5,80.5h4M336.5,80.5h-4M67.5,83.5h4M336.5,83.5h-4M67.5,86.5h4M336.5,86.5h-4M67.5,89.5h7M336.5,89.5h-7M67.5,92.5h4M336.5,92.5h-4M67.5,95.5h4M336.5,95.5h-4M67.5,98.5h4M336.5,98.5h-4M67.5,102.5h4M336.5,102.5h-4M67.5,105.5h4M336.5,105.5h-4M67.5,108.5h4M336.5,108.5h-4M67.5,111.5h4M336.5,111.5h-4M67.5,114.5h4M336.5,114.5h-4M67.5,117.5h4M336.5,117.5h-4M67.5,121.5h7M336.5,121.5h-7M67.5,124.5h4M336.5,124.5h-4M67.5,127.5h4M336.5,127.5h-4M67.5,130.5h4M336.5,130.5h-4M67.5,133.5h4M336.5,133.5h-4M67.5,136.5h4M336.5,136.5h-4M67.5,139.5h4M336.5,139.5h-4M67.5,143.5h4M336.5,143.5h-4M67.5,146.5h4M336.5,146.5h-4M67.5,149.5h4M336.5,149.5h-4M67.5,152.5h7M336.5,152.5h-7M67.5,155.5h4M336.5,155.5h-4M67.5,158.5h4M336.5,158.5h-4M67.5,161.5h4M336.5,161.5h-4M67.5,165.5h4M336.5,165.5h-4M67.5,168.5h4M336.5,168.5h-4M67.5,171.5h4M336.5,171.5h-4M67.5,174.5h4M336.5,174.5h-4M67.5,177.5h4M336.5,177.5h-4M67.5,180.5h4M336.5,180.5h-4M67.5,184.5h7M336.5,184.5h-7M67.5,187.5h4M336.5,187.5h-4M67.5,190.5h4M336.5,190.5h-4M67.5,193.5h4M336.5,193.5h-4M67.5,196.5h4M336.5,196.5h-4M67.5,199.5h4M336.5,199.5h-4M67.5,202.5h4M336.5,202.5h-4M67.5,206.5h4M336.5,206.5h-4M67.5,209.5h4M336.5,209.5h-4M67.5,212.5h4M336.5,212.5h-4M67.5,215.5h7M336.5,215.5h-7M67.5,215.5v-4M67.5,26.5v4M134.5,215.5v-4M134.5,26.5v4M202.5,215.5v-4M202.5,26.5v4M269.5,215.5v-4M269.5,26.5v4M336.5,215.5v-4M336.5,26.5v4" stroke="#000" stroke-width="1" fill="none" shape-rendering="crispEdges"/>
<text transform="translate(63.5,32.9) scale(0.768,1)" text-anchor="end">120</text>
<text transform="translate(63.5,62) scale(0.768,1)" text-anchor="end">110</text>
<text transform="translate(63.5,92.5) scale(0.768,1)" text-anchor="end">100</text>
<text transform="translate(63.5,124.8) scale(0.768,1)" text-anchor="end">90</text>
<text transform="translate(63.5,155.9) scale(0.768,1)" text-anchor="end">80</text>
<text transform="translate(63.5,187) scale(0.768,1)" text-anchor="end">70</text>
<text transform="translate(63.5,214.5) scale(0.768,1)" text-anchor="end">60</text>
<text transform="translate(66.4,229.8) scale(0.768,1)" text-anchor="middle">−90</text>
<text transform="translate(133.7,229.8) scale(0.768,1)" text-anchor="middle">0</text>
<text transform="translate(201.25,229.8) scale(0.768,1)" text-anchor="middle">90</text>
<text transform="translate(268.6,229.8) scale(0.768,1)" text-anchor="middle">0</text>
<text transform="translate(335.8,229.8) scale(0.768,1)" text-anchor="middle">−90</text>
<text transform="translate(201.5,242.6) scale(0.768,1)" text-anchor="middle">Lat (deg)</text>
<text transform="translate(201.5,20) scale(0.768,1)" text-anchor="middle">Inverted Winds Meridional (warmside)</text>
<text transform="translate(37,54.8) scale(0.768,1)" text-anchor="middle">A</text>
<text transform="translate(37,65.3) scale(0.768,1)" text-anchor="middle">l</text>
<text transform="translate(37,75.8) scale(0.768,1)" text-anchor="middle">t</text>
<text transform="translate(37,86.3) scale(0.768,1)" text-anchor="middle">i</text>
<text transform="translate(37,96.8) scale(0.768,1)" text-anchor="middle">t</text>
<text transform="translate(37,107.3) scale(0.768,1)" text-anchor="middle">u</text>
<text transform="translate(37,117.8) scale(0.768,1)" text-anchor="middle">d</text>
<text transform="translate(37,128.3) scale(0.768,1)" text-anchor="middle">e</text>
<text transform="translate(37,149.3) scale(0.768,1)" text-anchor="middle">(</text>
<text transform="translate(37,159.8) scale(0.768,1)" text-anchor="middle">k</text>
<text transform="translate(37,170.3) scale(0.768,1)" text-anchor="middle">m</text>
<text transform="translate(37,180.8) scale(0.768,1)" text-anchor="middle">)</text>
<rect x="374.5" y="206.10" width="28.0" height="9.70" fill="#200040" shape-rendering="crispEdges"/>
<rect x="374.5" y="196.70" width="28.0" height="9.70" fill="#400090" shape-rendering="crispEdges"/>
<rect x="374.5" y="187.30" width="28.0" height="9.70" fill="#1010b8" shape-rendering="crispEdges"/>
<rect x="374.5" y="177.90" width="28.0" height="9.70" fill="#0028ff" shape-rendering="crispEdges"/>
<rect x="374.5" y="168.50" width="28.0" height="9.70" fill="#0068f0" shape-rendering="crispEdges"/>
<rect x="374.5" y="159.10" width="28.0" height="9.70" fill="#00b0f0" shape-rendering="crispEdges"/>
<rect x="374.5" y="149.70" width="28.0" height="9.70" fill="#00dcd0" shape-rendering="crispEdges"/>
<rect x="374.5" y="140.30" width="28.0" height="9.70" fill="#00f0b0" shape-rendering="crispEdges"/>
<rect x="374.5" y="130.90" width="28.0" height="9.70" fill="#40f070" shape-rendering="crispEdges"/>
<rect x="374.5" y="121.50" width="28.0" height="9.70" fill="#90f000" shape-rendering="crispEdges"/>
<rect x="374.5" y="112.10" width="28.0" height="9.70" fill="#c8f000" shape-rendering="crispEdges"/>
<rect x="374.5" y="102.70" width="28.0" height="9.70" fill="#ffff00" shape-rendering="crispEdges"/>
<rect x="374.5" y="93.30" width="28.0" height="9.70" fill="#ffc000" shape-rendering="crispEdges"/>
<rect x="374.5" y="83.90" width="28.0" height="9.70" fill="#ffa000" shape-rendering="crispEdges"/>
<rect x="374.5" y="74.50" width="28.0" height="9.70" fill="#e07030" shape-rendering="crispEdges"/>
<rect x="374.5" y="65.10" width="28.0" height="9.70" fill="#d04050" shape-rendering="crispEdges"/>
<rect x="374.5" y="55.70" width="28.0" height="9.70" fill="#e02058" shape-rendering="crispEdges"/>
<rect x="374.5" y="46.30" width="28.0" height="9.70" fill="#ff0060" shape-rendering="crispEdges"/>
<rect x="374.5" y="36.90" width="28.0" height="9.70" fill="#f030a0" shape-rendering="crispEdges"/>
<rect x="374.5" y="27.50" width="28.0" height="9.70" fill="#ff50ff" shape-rendering="crispEdges"/>
<rect x="374.5" y="27.5" width="28.0" height="188.0" fill="none" stroke="#000" shape-rendering="crispEdges"/>
<path d="M402.5,51.5h-8M402.5,74.5h-8M402.5,98.5h-8M402.5,121.5h-8M402.5,145.5h-8M402.5,168.5h-8M402.5,192.5h-8" stroke="#000" fill="none" shape-rendering="crispEdges"/>
<text transform="translate(443.5,29.0) scale(0.768,1)" text-anchor="end">200.0</text>
<text transform="translate(443.5,52.45) scale(0.768,1)" text-anchor="end">150.0</text>
<text transform="translate(443.5,75.9) scale(0.768,1)" text-anchor="end">100.0</text>
<text transform="translate(443.5,99.35) scale(0.768,1)" text-anchor="end">50.0</text>
<text transform="translate(443.5,122.8) scale(0.768,1)" text-anchor="end">0.0</text>
<text transform="translate(443.5,146.25) scale(0.768,1)" text-anchor="end">−50.0</text>
<text transform="translate(443.5,169.7) scale(0.768,1)" text-anchor="end">−100.0</text>
<text transform="translate(443.5,193.15) scale(0.768,1)" text-anchor="end">−150.0</text>
<text transform="translate(443.5,216.6) scale(0.768,1)" text-anchor="end">−200.0</text>
</g><g transform="translate(480,270)">
<path d="M145.6,59.4 118.1,59.4 113.9,61.4 112.1,63.4 111.1,65.6 110.9,161.1 111.9,163.6 115.4,166.4 128.9,166.6 132.4,163.9 139.4,155.1 141.1,154.1 146.9,154.1 148.6,153.6 151.6,151.1 152.6,149.1 152.9,67.6 151.1,62.9 149.1,60.9Z" fill="#200040" fill-rule="evenodd" shape-rendering="crispEdges"/><path d="M145.6,59.4 118.1,59.4 113.9,61.4 112.1,63.4 111.1,65.6 110.9,161.1 111.9,163.6 115.4,166.4 128.9,166.6 132.4,163.9 139.4,155.1 141.1,154.1 146.9,154.1 148.6,153.6 151.6,151.1 152.6,149.1 152.9,67.6 151.1,62.9 149.1,60.9Z" fill="#400090" fill-rule="evenodd" shape-rendering="crispEdges"/><path d="M150.4,66.4 113.1,66.4 112.9,66.9 112.9,160.9 113.9,162.6 128.9,162.6 132.4,159.9 137.4,153.1 141.1,150.1 149.6,150.1 150.6,148.6 150.9,67.9Z" fill="#1010b8" fill-rule="evenodd" shape-rendering="crispEdges"/><path d="M149.9,70.1 113.6,70.1 113.6,159.6 129.1,159.6 132.6,156.6 138.1,149.4 140.6,147.4 150.1,146.9Z" fill="#0028ff" fill-rule="evenodd" shape-rendering="crispEdges"/><path d="M148.9,73.6 114.9,73.6 114.1,74.4 114.1,156.4 114.6,156.9 129.1,156.6 132.9,153.4 136.9,147.9 139.9,144.9 141.6,144.1 149.4,143.9 149.6,77.4 149.4,74.1Z" fill="#0068f0" fill-rule="evenodd" shape-rendering="crispEdges"/><path d="M148.1,77.4 115.4,77.4 114.9,78.1 114.6,151.1 114.9,153.4 115.4,153.9 129.4,153.6 131.9,151.6 137.1,144.6 140.4,141.6 147.6,141.4 148.6,140.9 148.9,78.9Z" fill="#00b0f0" fill-rule="evenodd" shape-rendering="crispEdges"/><path d="M147.4,81.1 116.1,81.1 115.6,81.6 115.4,149.4 116.1,150.9 128.9,150.9 132.4,148.1 137.6,141.1 141.1,138.4 147.1,138.4 148.1,137.4 148.1,82.4Z" fill="#00dcd0" fill-rule="evenodd" shape-rendering="crispEdges"/><path d="M146.6,84.9 120.1,84.6 116.9,84.9 116.4,85.4 115.9,92.9 116.1,146.6 116.9,147.9 129.1,147.9 132.6,144.9 136.6,139.4 139.9,136.1 141.4,135.4 146.6,135.4 147.4,134.4 147.6,87.9 147.4,85.9Z" fill="#00f0b0" fill-rule="evenodd" shape-rendering="crispEdges"/><path d="M145.1,88.4 118.6,88.4 117.1,89.1 116.6,92.1 116.9,143.9 117.6,144.9 128.6,145.1 130.1,144.4 132.9,141.6 136.9,136.1 139.6,133.4 141.6,132.4 145.9,132.4 146.6,131.6 146.9,90.9 146.4,89.1Z" fill="#40f070" fill-rule="evenodd" shape-rendering="crispEdges"/><path d="M145.1,92.4 119.4,92.1 117.9,92.9 117.4,95.1 117.1,127.1 117.4,139.9 118.4,141.9 129.4,141.9 132.1,139.6 139.6,130.4 141.1,129.6 145.1,129.4 145.9,128.6 146.4,125.1 146.1,94.4Z" fill="#90f000" fill-rule="evenodd" shape-rendering="crispEdges"/><path d="M118.6,96.6 117.9,101.9 117.9,122.9 132.9,122.9 136.1,126.6 142.4,126.4 143.9,123.9 145.6,122.9 145.6,99.9 144.9,96.6 142.6,95.9 121.1,95.9Z" fill="#c8f000" fill-rule="evenodd" shape-rendering="crispEdges"/><path d="M120.4,100.4 119.1,101.9 118.6,104.4 118.6,120.9 133.9,121.1 137.1,124.9 139.1,124.9 141.9,123.4 143.6,121.4 144.6,121.1 145.1,116.1 144.9,103.4 144.1,101.4 143.1,100.4 140.9,99.6 134.1,99.4 122.6,99.6Z" fill="#ffff00" fill-rule="evenodd" shape-rendering="crispEdges"/><path d="M145.6,59.4 118.1,59.4 113.9,61.4 112.1,63.4 111.1,65.6 110.9,161.1 111.9,163.6 115.4,166.4 128.9,166.6 132.4,163.9 139.4,155.1 141.1,154.1 146.9,154.1 148.6,153.6 151.6,151.1 152.6,149.1 152.9,67.6 151.1,62.9 149.1,60.9ZM150.4,66.4 113.1,66.4 112.9,66.9 112.9,160.9 113.9,162.6 128.9,162.6 132.4,159.9 137.4,153.1 141.1,150.1 149.6,150.1 150.6,148.6 150.9,67.9ZM149.9,70.1 113.6,70.1 113.6,159.6 129.1,159.6 132.6,156.6 138.1,149.4 140.6,147.4 150.1,146.9ZM148.9,73.6 114.9,73.6 114.1,74.4 114.1,156.4 114.6,156.9 129.1,156.6 132.9,153.4 136.9,147.9 139.9,144.9 141.6,144.1 149.4,143.9 149.6,77.4 149.4,74.1ZM148.1,77.4 115.4,77.4 114.9,78.1 114.6,151.1 114.9,153.4 115.4,153.9 129.4,153.6 131.9,151.6 137.1,144.6 140.4,141.6 147.6,141.4 148.6,140.9 148.9,78.9ZM147.4,81.1 116.1,81.1 115.6,81.6 115.4,149.4 116.1,150.9 128.9,150.9 132.4,148.1 137.6,141.1 141.1,138.4 147.1,138.4 148.1,137.4 148.1,82.4ZM146.6,84.9 120.1,84.6 116.9,84.9 116.4,85.4 115.9,92.9 116.1,146.6 116.9,147.9 129.1,147.9 132.6,144.9 136.6,139.4 139.9,136.1 141.4,135.4 146.6,135.4 147.4,134.4 147.6,87.9 147.4,85.9ZM145.1,88.4 118.6,88.4 117.1,89.1 116.6,92.1 116.9,143.9 117.6,144.9 128.6,145.1 130.1,144.4 132.9,141.6 136.9,136.1 139.6,133.4 141.6,132.4 145.9,132.4 146.6,131.6 146.9,90.9 146.4,89.1ZM145.1,92.4 119.4,92.1 117.9,92.9 117.4,95.1 117.1,127.1 117.4,139.9 118.4,141.9 129.4,141.9 132.1,139.6 139.6,130.4 141.1,129.6 145.1,129.4 145.9,128.6 146.4,125.1 146.1,94.4ZM118.6,96.6 117.9,101.9 117.9,122.9 132.9,122.9 136.1,126.6 142.4,126.4 143.9,123.9 145.6,122.9 145.6,99.9 144.9,96.6 142.6,95.9 121.1,95.9ZM120.4,100.4 119.1,101.9 118.6,104.4 118.6,120.9 133.9,121.1 137.1,124.9 139.1,124.9 141.9,123.4 143.6,121.4 144.6,121.1 145.1,116.1 144.9,103.4 144.1,101.4 143.1,100.4 140.9,99.6 134.1,99.4 122.6,99.6Z" fill="none" stroke="#000" stroke-width="1.0" shape-rendering="crispEdges"/><path d="M196,59 C199.5,59.5 200.8,66 200.8,78 L200.8,138 C200.8,150 198.5,158.2 195.5,158.2 C192,158.2 189.5,150 189.5,138 L189.5,78 C189.5,66 192.5,59 196,59Z" fill="#2a0c78"/><path d="M189.4,80 L197.8,80 L197.8,136 L189.4,136Z" fill="#000"/><path d="M190.5,74 C191,70 192,68 193,70 L197,80 L191,80Z M191,136 L197.5,136 L195,146 C193,150 191.5,148 191,144Z" fill="#000"/><path d="M194.5,63 C197,66 198.5,72 198.6,84 M196.5,64 C198,68 199.5,74 199.6,82 M198.6,90 L198.6,130 M193,142 C195,148 197,152 197.5,156 M195.5,140 C197,146 198.5,150 199,154" stroke="#2040d0" stroke-width="0.8" fill="none"/><path d="M202.9,26.1 202.9,158.9 283.6,158.9 285.1,159.6 288.9,163.6 291.6,165.4 301.6,165.1 305.4,164.1 306.9,161.4 307.4,153.1 307.4,26.1Z" fill="#200040" fill-rule="evenodd" shape-rendering="crispEdges"/><path d="M202.9,26.1 202.9,158.9 283.6,158.9 285.1,159.6 288.9,163.6 291.6,165.4 301.6,165.1 305.4,164.1 306.9,161.4 307.4,153.1 307.4,26.1Z" fill="#400090" fill-rule="evenodd" shape-rendering="crispEdges"/><path d="M202.9,26.1 202.9,155.6 283.9,155.6 285.1,156.4 290.1,161.9 291.9,162.6 306.4,162.4 306.9,160.6 306.9,26.1Z" fill="#1010b8" fill-rule="evenodd" shape-rendering="crispEdges"/><path d="M202.9,26.1 202.9,152.1 283.4,152.1 284.9,152.9 288.1,156.9 291.4,159.6 305.4,159.4 306.1,157.6 306.1,26.1Z" fill="#0028ff" fill-rule="evenodd" shape-rendering="crispEdges"/><path d="M202.9,26.1 202.9,148.9 283.6,148.9 286.1,150.9 289.1,155.1 290.9,156.6 300.9,156.9 304.4,156.4 305.4,154.4 305.6,26.1Z" fill="#0068f0" fill-rule="evenodd" shape-rendering="crispEdges"/><path d="M202.9,26.1 202.9,145.6 283.9,145.6 286.1,147.6 289.1,152.1 291.1,153.9 301.1,153.9 303.6,153.1 304.4,151.9 304.9,148.6 305.1,26.1Z" fill="#00b0f0" fill-rule="evenodd" shape-rendering="crispEdges"/><path d="M202.9,26.1 202.9,142.1 283.4,142.1 285.4,143.4 288.9,148.9 290.9,150.9 294.9,151.1 302.1,150.4 303.6,148.4 304.4,141.4 304.4,26.1 255.9,26.1 255.6,27.4 254.4,28.4 252.9,28.1 251.6,26.1Z" fill="#00dcd0" fill-rule="evenodd" shape-rendering="crispEdges"/><path d="M202.9,26.1 202.9,138.9 283.6,138.9 285.6,140.4 289.4,146.6 291.4,148.1 299.1,147.9 301.4,147.1 302.6,145.6 303.4,142.4 303.9,131.4 303.9,28.9 293.6,28.6 288.1,27.9 270.4,28.1 261.6,29.4 256.4,31.4 254.1,31.6 248.4,29.4 232.9,29.4 226.6,28.6 217.6,28.9 216.1,27.9 215.4,26.1ZM212.4,93.9 215.4,94.1 218.9,95.4 223.6,99.6 224.6,102.4 224.6,108.1 223.9,110.1 221.1,112.4 219.4,114.9 216.6,116.9 214.9,119.1 213.4,119.9 212.4,119.6 208.4,114.9 207.6,111.4 208.4,97.1 210.1,94.6Z" fill="#00f0b0" fill-rule="evenodd" shape-rendering="crispEdges"/><path d="M202.9,26.1 202.9,124.9 205.1,124.1 206.4,121.4 205.1,114.6 205.1,105.1 206.1,101.9 206.6,95.4 207.6,93.4 210.4,90.9 211.4,86.6 212.4,85.6 213.6,85.6 215.1,87.1 215.6,89.6 217.1,91.6 222.4,93.6 226.9,97.6 230.4,101.6 232.4,102.4 235.6,102.6 239.6,106.4 244.4,107.1 245.9,108.1 246.1,110.1 242.9,113.9 242.4,118.1 239.4,121.4 238.9,122.6 239.4,124.1 242.4,127.4 242.6,135.4 283.4,135.4 285.4,136.6 289.4,143.6 291.1,145.1 297.6,144.9 300.6,143.9 302.4,140.4 303.1,131.9 303.4,31.1 294.9,30.6 288.4,29.4 271.1,29.6 264.6,31.1 261.6,32.6 260.9,33.9 260.4,40.6 259.6,42.4 255.4,46.1 253.6,46.6 251.6,44.9 251.4,35.1 250.9,33.6 249.4,32.4 246.6,31.9 231.6,31.9 226.6,30.6 222.4,30.6 215.9,31.6 210.1,29.4 208.9,28.1 208.4,26.1Z" fill="#40f070" fill-rule="evenodd" shape-rendering="crispEdges"/><path d="M221.1,33.4 220.1,35.4 220.1,49.6 219.4,51.6 215.9,55.1 215.4,59.4 214.1,63.6 214.4,79.1 215.6,82.1 220.4,87.6 226.6,93.1 232.1,95.4 235.4,97.9 240.4,99.4 244.6,102.1 249.6,102.9 253.4,106.1 256.6,105.1 258.4,105.6 263.1,110.1 264.6,113.6 266.6,115.9 273.4,118.6 276.6,120.6 280.9,124.6 283.9,124.9 286.1,124.1 287.1,122.6 287.6,118.4 289.4,116.4 291.6,115.9 302.6,116.1 302.9,40.9 302.4,41.6 301.4,40.9 300.6,34.1 298.1,32.6 294.9,32.4 291.1,30.9 288.1,30.4 271.9,30.6 269.6,31.1 265.6,33.6 262.9,43.1 261.9,44.6 257.6,48.6 254.9,49.6 252.4,49.6 246.9,47.6 240.6,47.1 239.1,46.6 236.6,44.6 230.4,43.4 228.9,40.6 228.9,35.4 228.4,33.9 226.1,32.6 222.9,32.6ZM275.9,71.1 277.9,72.6 278.4,73.9 277.9,77.6 275.1,79.9 273.1,80.1 270.9,79.4 269.6,77.4 270.1,73.4 272.4,71.4ZM206.4,26.1 202.9,26.1 202.9,101.9 204.4,99.6 204.6,94.6 206.4,89.1 206.6,82.9 210.4,78.6 211.1,76.1 210.9,34.6 210.4,33.1 207.1,29.9Z" fill="#90f000" fill-rule="evenodd" shape-rendering="crispEdges"/><path d="M286.6,31.1 272.9,31.6 270.1,32.4 268.9,33.6 268.1,36.9 265.4,41.1 263.9,46.1 258.6,51.4 253.4,53.1 250.6,53.1 245.1,50.1 235.4,49.1 226.6,57.1 221.1,58.4 217.6,62.6 216.9,64.9 216.9,77.1 217.4,78.9 220.4,82.6 228.9,90.9 241.1,96.9 247.9,98.9 252.9,98.6 253.9,99.1 255.9,101.6 258.9,102.9 261.4,105.9 264.9,108.9 266.1,111.4 269.6,114.9 277.1,117.1 281.6,116.9 285.6,113.1 290.9,112.1 294.6,108.6 302.1,108.1 302.1,53.9 298.1,50.4 297.1,44.9 293.4,40.6 293.1,34.6 292.6,33.6 290.4,31.9ZM276.9,67.6 280.1,68.6 281.4,71.1 281.6,77.1 278.1,81.9 278.1,83.9 279.9,85.9 280.1,87.1 276.4,91.1 274.4,91.9 272.4,91.9 266.6,86.4 266.1,83.9 266.1,74.6 267.1,72.4 271.6,68.1 272.9,67.6ZM204.4,26.1 202.9,26.1 202.9,79.6 205.4,78.4 206.4,75.6 206.4,34.9 204.6,29.4Z" fill="#c8f000" fill-rule="evenodd" shape-rendering="crispEdges"/><path d="M286.1,32.1 272.1,33.6 271.1,34.9 270.1,39.1 267.1,42.6 265.9,47.6 260.1,53.6 256.6,55.9 255.9,58.9 254.4,60.6 252.9,60.6 245.4,54.1 243.9,53.4 238.4,53.1 235.9,53.6 227.6,61.1 226.4,61.9 222.4,62.6 221.1,63.6 220.4,65.1 220.4,76.9 221.1,78.4 231.4,88.6 235.9,91.9 240.1,93.1 244.9,93.6 248.6,95.9 249.9,95.9 252.9,94.1 254.9,94.4 256.1,95.6 257.6,99.4 265.4,106.1 267.1,108.9 271.9,113.6 275.6,114.6 280.4,114.4 284.4,110.9 289.4,109.6 293.4,105.9 301.4,105.6 301.6,57.4 295.6,51.9 294.9,46.6 290.9,41.4 290.6,34.9 290.1,33.9 288.4,32.6ZM275.4,65.1 281.4,66.9 282.9,68.9 283.9,78.6 281.6,81.9 281.6,82.6 283.9,85.6 283.9,87.9 281.9,90.1 276.9,93.4 273.1,94.4 270.6,94.4 269.6,93.9 264.1,87.9 263.6,85.6 263.6,74.4 264.9,70.9 266.9,69.4 269.6,66.1 271.9,65.1Z" fill="#ffff00" fill-rule="evenodd" shape-rendering="crispEdges"/><path d="M281.6,94.6 279.6,94.6 276.4,95.6 274.4,97.4 274.1,108.1 275.1,110.4 276.6,111.1 280.1,110.9 282.6,108.1 282.9,97.1ZM230.1,63.6 229.1,65.9 229.1,76.9 229.9,78.9 234.4,83.6 236.6,84.9 240.4,85.9 243.1,87.9 245.6,88.9 249.4,88.6 253.9,85.4 255.4,85.9 257.4,87.9 259.4,87.6 260.1,86.1 260.4,65.9 259.1,63.4 257.6,63.4 255.4,65.4 253.4,65.6 249.4,62.6 240.1,60.9 232.9,62.1ZM284.4,33.9 279.4,36.4 277.9,42.6 270.4,49.9 269.6,52.1 269.9,55.1 275.9,61.6 282.6,65.1 284.1,66.6 284.9,68.4 285.4,73.6 287.6,78.1 287.9,82.1 291.4,85.9 292.9,92.1 295.4,94.1 297.9,97.1 300.9,97.9 300.9,60.4 298.6,58.4 294.4,57.4 292.6,56.1 291.9,54.4 291.4,46.9 288.1,43.1 287.4,41.4 287.1,35.4 286.1,34.1Z" fill="#ffc000" fill-rule="evenodd" shape-rendering="crispEdges"/><path d="M238.4,64.4 235.6,66.4 233.9,68.6 233.6,75.9 234.4,78.1 240.1,82.9 244.6,84.1 249.1,83.9 250.9,82.1 251.4,80.4 251.4,70.1 250.9,68.6 249.6,67.1 247.9,66.1 241.1,63.9Z" fill="#ffa000" fill-rule="evenodd" shape-rendering="crispEdges"/><path d="M239.9,67.6 238.4,69.6 238.4,72.9 238.9,74.1 241.6,75.4 245.6,74.6 246.6,72.9 246.6,70.1 246.1,69.1 243.1,67.6Z" fill="#e07030" fill-rule="evenodd" shape-rendering="crispEdges"/><path d="M202.9,26.1 202.9,158.9 283.6,158.9 285.1,159.6 288.9,163.6 291.6,165.4 301.6,165.1 305.4,164.1 306.9,161.4 307.4,153.1 307.4,26.1ZM202.9,26.1 202.9,155.6 283.9,155.6 285.1,156.4 290.1,161.9 291.9,162.6 306.4,162.4 306.9,160.6 306.9,26.1ZM202.9,26.1 202.9,152.1 283.4,152.1 284.9,152.9 288.1,156.9 291.4,159.6 305.4,159.4 306.1,157.6 306.1,26.1ZM202.9,26.1 202.9,148.9 283.6,148.9 286.1,150.9 289.1,155.1 290.9,156.6 300.9,156.9 304.4,156.4 305.4,154.4 305.6,26.1ZM202.9,26.1 202.9,145.6 283.9,145.6 286.1,147.6 289.1,152.1 291.1,153.9 301.1,153.9 303.6,153.1 304.4,151.9 304.9,148.6 305.1,26.1ZM202.9,26.1 202.9,142.1 283.4,142.1 285.4,143.4 288.9,148.9 290.9,150.9 294.9,151.1 302.1,150.4 303.6,148.4 304.4,141.4 304.4,26.1 255.9,26.1 255.6,27.4 254.4,28.4 252.9,28.1 251.6,26.1ZM202.9,26.1 202.9,138.9 283.6,138.9 285.6,140.4 289.4,146.6 291.4,148.1 299.1,147.9 301.4,147.1 302.6,145.6 303.4,142.4 303.9,131.4 303.9,28.9 293.6,28.6 288.1,27.9 270.4,28.1 261.6,29.4 256.4,31.4 254.1,31.6 248.4,29.4 232.9,29.4 226.6,28.6 217.6,28.9 216.1,27.9 215.4,26.1ZM212.4,93.9 215.4,94.1 218.9,95.4 223.6,99.6 224.6,102.4 224.6,108.1 223.9,110.1 221.1,112.4 219.4,114.9 216.6,116.9 214.9,119.1 213.4,119.9 212.4,119.6 208.4,114.9 207.6,111.4 208.4,97.1 210.1,94.6ZM202.9,26.1 202.9,124.9 205.1,124.1 206.4,121.4 205.1,114.6 205.1,105.1 206.1,101.9 206.6,95.4 207.6,93.4 210.4,90.9 211.4,86.6 212.4,85.6 213.6,85.6 215.1,87.1 215.6,89.6 217.1,91.6 222.4,93.6 226.9,97.6 230.4,101.6 232.4,102.4 235.6,102.6 239.6,106.4 244.4,107.1 245.9,108.1 246.1,110.1 242.9,113.9 242.4,118.1 239.4,121.4 238.9,122.6 239.4,124.1 242.4,127.4 242.6,135.4 283.4,135.4 285.4,136.6 289.4,143.6 291.1,145.1 297.6,144.9 300.6,143.9 302.4,140.4 303.1,131.9 303.4,31.1 294.9,30.6 288.4,29.4 271.1,29.6 264.6,31.1 261.6,32.6 260.9,33.9 260.4,40.6 259.6,42.4 255.4,46.1 253.6,46.6 251.6,44.9 251.4,35.1 250.9,33.6 249.4,32.4 246.6,31.9 231.6,31.9 226.6,30.6 222.4,30.6 215.9,31.6 210.1,29.4 208.9,28.1 208.4,26.1ZM221.1,33.4 220.1,35.4 220.1,49.6 219.4,51.6 215.9,55.1 215.4,59.4 214.1,63.6 214.4,79.1 215.6,82.1 220.4,87.6 226.6,93.1 232.1,95.4 235.4,97.9 240.4,99.4 244.6,102.1 249.6,102.9 253.4,106.1 256.6,105.1 258.4,105.6 263.1,110.1 264.6,113.6 266.6,115.9 273.4,118.6 276.6,120.6 280.9,124.6 283.9,124.9 286.1,124.1 287.1,122.6 287.6,118.4 289.4,116.4 291.6,115.9 302.6,116.1 302.9,40.9 302.4,41.6 301.4,40.9 300.6,34.1 298.1,32.6 294.9,32.4 291.1,30.9 288.1,30.4 271.9,30.6 269.6,31.1 265.6,33.6 262.9,43.1 261.9,44.6 257.6,48.6 254.9,49.6 252.4,49.6 246.9,47.6 240.6,47.1 239.1,46.6 236.6,44.6 230.4,43.4 228.9,40.6 228.9,35.4 228.4,33.9 226.1,32.6 222.9,32.6ZM275.9,71.1 277.9,72.6 278.4,73.9 277.9,77.6 275.1,79.9 273.1,80.1 270.9,79.4 269.6,77.4 270.1,73.4 272.4,71.4ZM206.4,26.1 202.9,26.1 202.9,101.9 204.4,99.6 204.6,94.6 206.4,89.1 206.6,82.9 210.4,78.6 211.1,76.1 210.9,34.6 210.4,33.1 207.1,29.9ZM286.6,31.1 272.9,31.6 270.1,32.4 268.9,33.6 268.1,36.9 265.4,41.1 263.9,46.1 258.6,51.4 253.4,53.1 250.6,53.1 245.1,50.1 235.4,49.1 226.6,57.1 221.1,58.4 217.6,62.6 216.9,64.9 216.9,77.1 217.4,78.9 220.4,82.6 228.9,90.9 241.1,96.9 247.9,98.9 252.9,98.6 253.9,99.1 255.9,101.6 258.9,102.9 261.4,105.9 264.9,108.9 266.1,111.4 269.6,114.9 277.1,117.1 281.6,116.9 285.6,113.1 290.9,112.1 294.6,108.6 302.1,108.1 302.1,53.9 298.1,50.4 297.1,44.9 293.4,40.6 293.1,34.6 292.6,33.6 290.4,31.9ZM276.9,67.6 280.1,68.6 281.4,71.1 281.6,77.1 278.1,81.9 278.1,83.9 279.9,85.9 280.1,87.1 276.4,91.1 274.4,91.9 272.4,91.9 266.6,86.4 266.1,83.9 266.1,74.6 267.1,72.4 271.6,68.1 272.9,67.6ZM204.4,26.1 202.9,26.1 202.9,79.6 205.4,78.4 206.4,75.6 206.4,34.9 204.6,29.4ZM286.1,32.1 272.1,33.6 271.1,34.9 270.1,39.1 267.1,42.6 265.9,47.6 260.1,53.6 256.6,55.9 255.9,58.9 254.4,60.6 252.9,60.6 245.4,54.1 243.9,53.4 238.4,53.1 235.9,53.6 227.6,61.1 226.4,61.9 222.4,62.6 221.1,63.6 220.4,65.1 220.4,76.9 221.1,78.4 231.4,88.6 235.9,91.9 240.1,93.1 244.9,93.6 248.6,95.9 249.9,95.9 252.9,94.1 254.9,94.4 256.1,95.6 257.6,99.4 265.4,106.1 267.1,108.9 271.9,113.6 275.6,114.6 280.4,114.4 284.4,110.9 289.4,109.6 293.4,105.9 301.4,105.6 301.6,57.4 295.6,51.9 294.9,46.6 290.9,41.4 290.6,34.9 290.1,33.9 288.4,32.6ZM275.4,65.1 281.4,66.9 282.9,68.9 283.9,78.6 281.6,81.9 281.6,82.6 283.9,85.6 283.9,87.9 281.9,90.1 276.9,93.4 273.1,94.4 270.6,94.4 269.6,93.9 264.1,87.9 263.6,85.6 263.6,74.4 264.9,70.9 266.9,69.4 269.6,66.1 271.9,65.1ZM281.6,94.6 279.6,94.6 276.4,95.6 274.4,97.4 274.1,108.1 275.1,110.4 276.6,111.1 280.1,110.9 282.6,108.1 282.9,97.1ZM230.1,63.6 229.1,65.9 229.1,76.9 229.9,78.9 234.4,83.6 236.6,84.9 240.4,85.9 243.1,87.9 245.6,88.9 249.4,88.6 253.9,85.4 255.4,85.9 257.4,87.9 259.4,87.6 260.1,86.1 260.4,65.9 259.1,63.4 257.6,63.4 255.4,65.4 253.4,65.6 249.4,62.6 240.1,60.9 232.9,62.1ZM284.4,33.9 279.4,36.4 277.9,42.6 270.4,49.9 269.6,52.1 269.9,55.1 275.9,61.6 282.6,65.1 284.1,66.6 284.9,68.4 285.4,73.6 287.6,78.1 287.9,82.1 291.4,85.9 292.9,92.1 295.4,94.1 297.9,97.1 300.9,97.9 300.9,60.4 298.6,58.4 294.4,57.4 292.6,56.1 291.9,54.4 291.4,46.9 288.1,43.1 287.4,41.4 287.1,35.4 286.1,34.1ZM238.4,64.4 235.6,66.4 233.9,68.6 233.6,75.9 234.4,78.1 240.1,82.9 244.6,84.1 249.1,83.9 250.9,82.1 251.4,80.4 251.4,70.1 250.9,68.6 249.6,67.1 247.9,66.1 241.1,63.9ZM239.9,67.6 238.4,69.6 238.4,72.9 238.9,74.1 241.6,75.4 245.6,74.6 246.6,72.9 246.6,70.1 246.1,69.1 243.1,67.6Z" fill="none" stroke="#000" stroke-width="1.0" shape-rendering="crispEdges"/><path d="M300,26 L307.5,26 L307.5,148 C307.5,154 305,155 302,154 L300,148Z" fill="#000"/>
<rect x="67.5" y="26.5" width="269.0" height="189.0" fill="none" stroke="#000" stroke-width="1" shape-rendering="crispEdges"/>
<path d="M67.5,26.5h7M336.5,26.5h-7M67.5,29.5h4M336.5,29.5h-4M67.5,32.5h4M336.5,32.5h-4M67.5,35.5h4M336.5,35.5h-4M67.5,39.5h4M336.5,39.5h-4M67.5,42.5h4M336.5,42.5h-4M67.5,45.5h4M336.5,45.5h-4M67.5,48.5h4M336.5,48.5h-4M67.5,51.5h4M336.5,51.5h-4M67.5,54.5h4M336.5,54.5h-4M67.5,58.5h7M336.5,58.5h-7M67.5,61.5h4M336.5,61.5h-4M67.5,64.5h4M336.5,64.5h-4M67.5,67.5h4M336.5,67.5h-4M67.5,70.5h4M336.5,70.5h-4M67.5,73.5h4M336.5,73.5h-4M67.5,76.5h4M336.5,76.5h-4M67.5,80.5h4M336.5,80.5h-4M67.5,83.5h4M336.5,83.5h-4M67.5,86.5h4M336.5,86.5h-4M67.5,89.5h7M336.5,89.5h-7M67.5,92.5h4M336.5,92.5h-4M67.5,95.5h4M336.5,95.5h-4M67.5,98.5h4M336.5,98.5h-4M67.5,102.5h4M336.5,102.5h-4M67.5,105.5h4M336.5,105.5h-4M67.5,108.5h4M336.5,108.5h-4M67.5,111.5h4M336.5,111.5h-4M67.5,114.5h4M336.5,114.5h-4M67.5,117.5h4M336.5,117.5h-4M67.5,121.5h7M336.5,121.5h-7M67.5,124.5h4M336.5,124.5h-4M67.5,127.5h4M336.5,127.5h-4M67.5,130.5h4M336.5,130.5h-4M67.5,133.5h4M336.5,133.5h-4M67.5,136.5h4M336.5,136.5h-4M67.5,139.5h4M336.5,139.5h-4M67.5,143.5h4M336.5,143.5h-4M67.5,146.5h4M336.5,146.5h-4M67.5,149.5h4M336.5,149.5h-4M67.5,152.5h7M336.5,152.5h-7M67.5,155.5h4M336.5,155.5h-4M67.5,158.5h4M336.5,158.5h-4M67.5,161.5h4M336.5,161.5h-4M67.5,165.5h4M336.5,165.5h-4M67.5,168.5h4M336.5,168.5h-4M67.5,171.5h4M336.5,171.5h-4M67.5,174.5h4M336.5,174.5h-4M67.5,177.5h4M336.5,177.5h-4M67.5,180.5h4M336.5,180.5h-4M67.5,184.5h7M336.5,184.5h-7M67.5,187.5h4M336.5,187.5h-4M67.5,190.5h4M336.5,190.5h-4M67.5,193.5h4M336.5,193.5h-4M67.5,196.5h4M336.5,196.5h-4M67.5,199.5h4M336.5,199.5h-4M67.5,202.5h4M336.5,202.5h-4M67.5,206.5h4M336.5,206.5h-4M67.5,209.5h4M336.5,209.5h-4M67.5,212.5h4M336.5,212.5h-4M67.5,215.5h7M336.5,215.5h-7M67.5,215.5v-4M67.5,26.5v4M134.5,215.5v-4M134.5,26.5v4M202.5,215.5v-4M202.5,26.5v4M269.5,215.5v-4M269.5,26.5v4M336.5,215.5v-4M336.5,26.5v4" stroke="#000" stroke-width="1" fill="none" shape-rendering="crispEdges"/>
<text transform="translate(63.5,32.9) scale(0.768,1)" text-anchor="end">120</text>
<text transform="translate(63.5,62) scale(0.768,1)" text-anchor="end">110</text>
<text transform="translate(63.5,92.5) scale(0.768,1)" text-anchor="end">100</text>
<text transform="translate(63.5,124.8) scale(0.768,1)" text-anchor="end">90</text>
<text transform="translate(63.5,155.9) scale(0.768,1)" text-anchor="end">80</text>
<text transform="translate(63.5,187) scale(0.768,1)" text-anchor="end">70</text>
<text transform="translate(63.5,214.5) scale(0.768,1)" text-anchor="end">60</text>
<text transform="translate(66.4,229.8) scale(0.768,1)" text-anchor="middle">−90</text>
<text transform="translate(133.7,229.8) scale(0.768,1)" text-anchor="middle">0</text>
<text transform="translate(201.25,229.8) scale(0.768,1)" text-anchor="middle">90</text>
<text transform="translate(268.6,229.8) scale(0.768,1)" text-anchor="middle">0</text>
<text transform="translate(335.8,229.8) scale(0.768,1)" text-anchor="middle">−90</text>
<text transform="translate(201.5,242.6) scale(0.768,1)" text-anchor="middle">Lat (deg)</text>
<text transform="translate(201.5,20) scale(0.768,1)" text-anchor="middle">Inverted Winds Zonal (warmside)</text>
<text transform="translate(37,54.8) scale(0.768,1)" text-anchor="middle">A</text>
<text transform="translate(37,65.3) scale(0.768,1)" text-anchor="middle">l</text>
<text transform="translate(37,75.8) scale(0.768,1)" text-anchor="middle">t</text>
<text transform="translate(37,86.3) scale(0.768,1)" text-anchor="middle">i</text>
<text transform="translate(37,96.8) scale(0.768,1)" text-anchor="middle">t</text>
<text transform="translate(37,107.3) scale(0.768,1)" text-anchor="middle">u</text>
<text transform="translate(37,117.8) scale(0.768,1)" text-anchor="middle">d</text>
<text transform="translate(37,128.3) scale(0.768,1)" text-anchor="middle">e</text>
<text transform="translate(37,149.3) scale(0.768,1)" text-anchor="middle">(</text>
<text transform="translate(37,159.8) scale(0.768,1)" text-anchor="middle">k</text>
<text transform="translate(37,170.3) scale(0.768,1)" text-anchor="middle">m</text>
<text transform="translate(37,180.8) scale(0.768,1)" text-anchor="middle">)</text>
<rect x="365.5" y="206.10" width="28.0" height="9.70" fill="#200040" shape-rendering="crispEdges"/>
<rect x="365.5" y="196.70" width="28.0" height="9.70" fill="#400090" shape-rendering="crispEdges"/>
<rect x="365.5" y="187.30" width="28.0" height="9.70" fill="#1010b8" shape-rendering="crispEdges"/>
<rect x="365.5" y="177.90" width="28.0" height="9.70" fill="#0028ff" shape-rendering="crispEdges"/>
<rect x="365.5" y="168.50" width="28.0" height="9.70" fill="#0068f0" shape-rendering="crispEdges"/>
<rect x="365.5" y="159.10" width="28.0" height="9.70" fill="#00b0f0" shape-rendering="crispEdges"/>
<rect x="365.5" y="149.70" width="28.0" height="9.70" fill="#00dcd0" shape-rendering="crispEdges"/>
<rect x="365.5" y="140.30" width="28.0" height="9.70" fill="#00f0b0" shape-rendering="crispEdges"/>
<rect x="365.5" y="130.90" width="28.0" height="9.70" fill="#40f070" shape-rendering="crispEdges"/>
<rect x="365.5" y="121.50" width="28.0" height="9.70" fill="#90f000" shape-rendering="crispEdges"/>
<rect x="365.5" y="112.10" width="28.0" height="9.70" fill="#c8f000" shape-rendering="crispEdges"/>
<rect x="365.5" y="102.70" width="28.0" height="9.70" fill="#ffff00" shape-rendering="crispEdges"/>
<rect x="365.5" y="93.30" width="28.0" height="9.70" fill="#ffc000" shape-rendering="crispEdges"/>
<rect x="365.5" y="83.90" width="28.0" height="9.70" fill="#ffa000" shape-rendering="crispEdges"/>
<rect x="365.5" y="74.50" width="28.0" height="9.70" fill="#e07030" shape-rendering="crispEdges"/>
<rect x="365.5" y="65.10" width="28.0" height="9.70" fill="#d04050" shape-rendering="crispEdges"/>
<rect x="365.5" y="55.70" width="28.0" height="9.70" fill="#e02058" shape-rendering="crispEdges"/>
<rect x="365.5" y="46.30" width="28.0" height="9.70" fill="#ff0060" shape-rendering="crispEdges"/>
<rect x="365.5" y="36.90" width="28.0" height="9.70" fill="#f030a0" shape-rendering="crispEdges"/>
<rect x="365.5" y="27.50" width="28.0" height="9.70" fill="#ff50ff" shape-rendering="crispEdges"/>
<rect x="365.5" y="27.5" width="28.0" height="188.0" fill="none" stroke="#000" shape-rendering="crispEdges"/>
<path d="M393.5,51.5h-8M393.5,74.5h-8M393.5,98.5h-8M393.5,121.5h-8M393.5,145.5h-8M393.5,168.5h-8M393.5,192.5h-8" stroke="#000" fill="none" shape-rendering="crispEdges"/>
<text transform="translate(434.5,29.0) scale(0.768,1)" text-anchor="end">200.0</text>
<text transform="translate(434.5,52.45) scale(0.768,1)" text-anchor="end">150.0</text>
<text transform="translate(434.5,75.9) scale(0.768,1)" text-anchor="end">100.0</text>
<text transform="translate(434.5,99.35) scale(0.768,1)" text-anchor="end">50.0</text>
<text transform="translate(434.5,122.8) scale(0.768,1)" text-anchor="end">0.0</text>
<text transform="translate(434.5,146.25) scale(0.768,1)" text-anchor="end">−50.0</text>
<text transform="translate(434.5,169.7) scale(0.768,1)" text-anchor="end">−100.0</text>
<text transform="translate(434.5,193.15) scale(0.768,1)" text-anchor="end">−150.0</text>
<text transform="translate(434.5,216.6) scale(0.768,1)" text-anchor="end">−200.0</text>
</g>
<text transform="translate(576.5,525) scale(0.768,1)" text-anchor="start">2013203v01 Wed Aug 10 09:56:24 2016</text>
</svg></body></html>
